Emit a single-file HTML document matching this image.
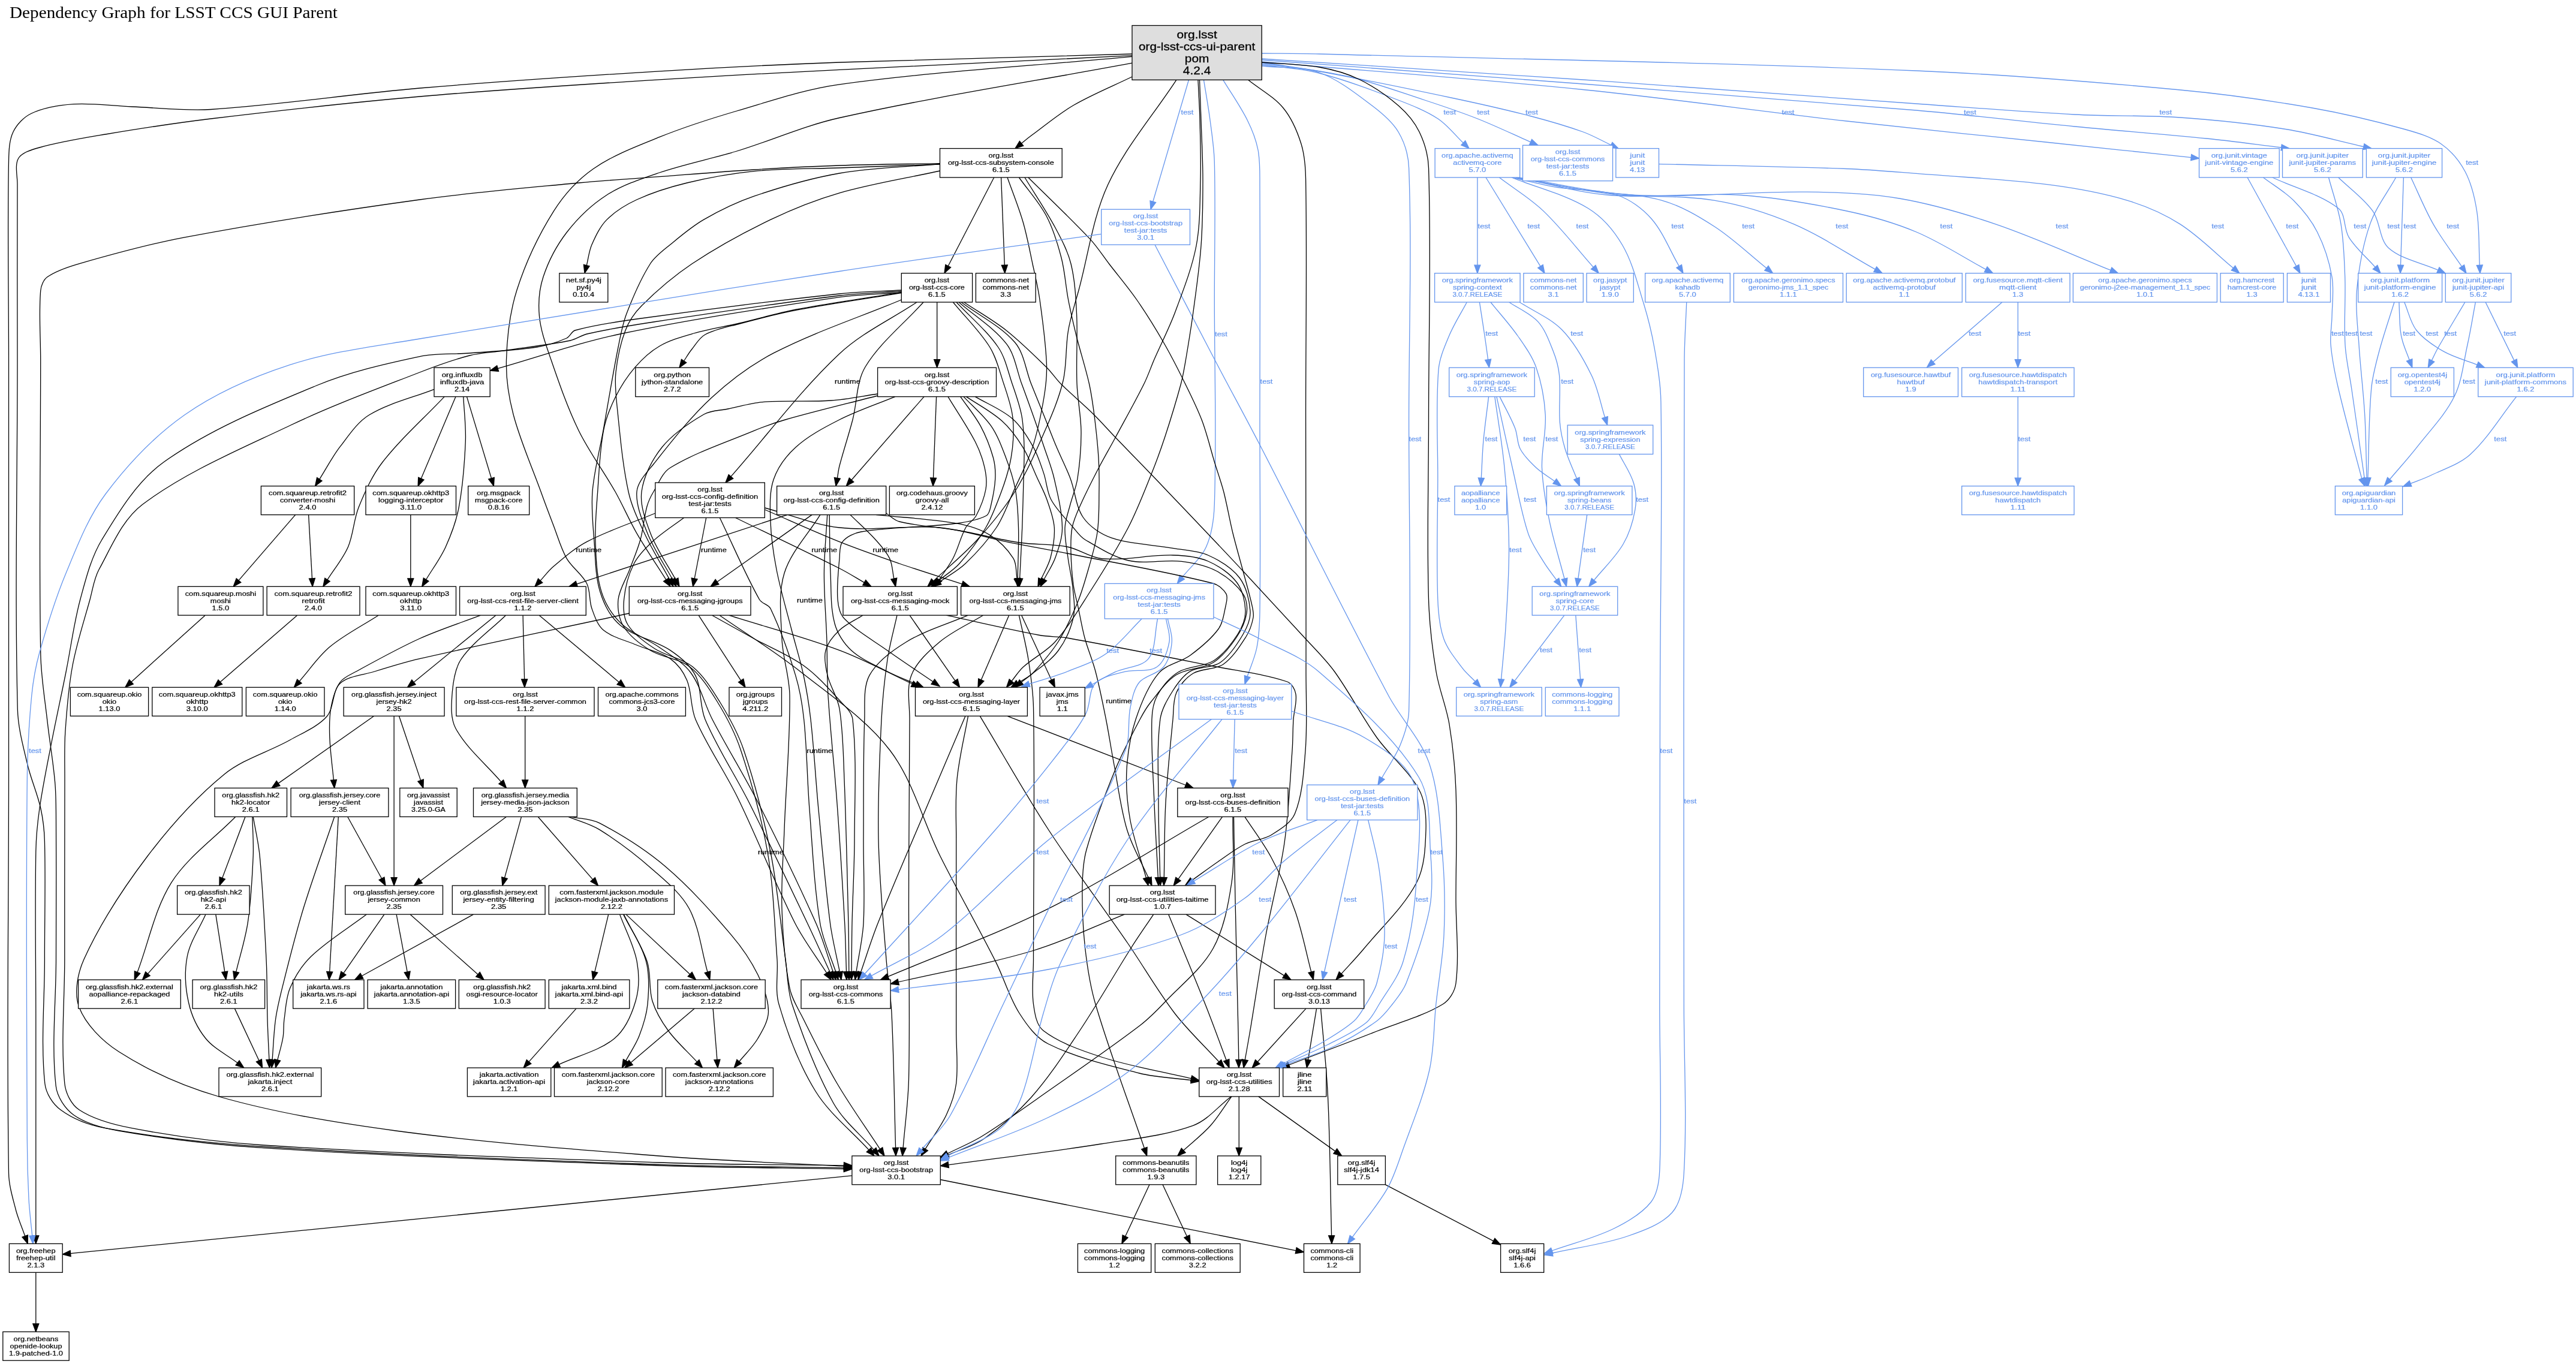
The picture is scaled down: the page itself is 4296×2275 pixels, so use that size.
<!DOCTYPE html><html><head><meta charset="utf-8"><title>Dependency Graph</title><style>html,body{margin:0;padding:0;background:#fff}svg{display:block;will-change:transform}text{font-family:"Liberation Sans",sans-serif;font-size:10.6px;text-anchor:middle;stroke-width:.22px}text.r{font-size:18.2px;stroke-width:.3px}text.t{font-family:"Liberation Serif",serif;font-size:27.5px;text-anchor:start;stroke:none}path{fill:none;stroke-width:1.3}rect{stroke-width:1.3}polygon{stroke-width:1.3}</style></head><body>
<svg width="4296" height="2275" viewBox="0 0 4296 2275">
<rect x="0" y="0" width="4296" height="2275" fill="#ffffff" stroke="none"/>
<text class="t" x="16" y="30.3" fill="#000" textLength="547" lengthAdjust="spacingAndGlyphs">Dependency Graph for LSST CCS GUI Parent</text>
<path d="M2104.2,89.0C2136.1,89.3 2168.1,89.2 2200.0,90.0C2532.0,98.8 2864.2,104.1 3196.0,118.0C3342.9,124.1 3489.7,136.3 3636.0,150.0C3709.7,156.9 3783.2,167.2 3856.0,180.0C3907.8,189.1 3959.4,201.4 4010.0,215.5C4031.1,221.4 4053.5,227.8 4071.0,240.0C4087.2,251.3 4101.7,268.5 4111.0,286.0C4121.5,305.8 4127.1,329.5 4130.6,352.0C4135.2,381.6 4133.7,412.1 4135.3,442.2" stroke="#6495ed"/><polygon points="4136.0,455.7 4130.3,442.5 4140.3,442.0" fill="#6495ed" stroke="#6495ed"/><text x="4122.7" y="275.0" fill="#6495ed" stroke="#6495ed" textLength="20.9" lengthAdjust="spacingAndGlyphs">test</text>
<path d="M2104.2,98.0C2282.8,109.7 2461.4,120.7 2640.0,133.0C2825.4,145.7 3010.7,159.9 3196.0,173.0C3284.0,179.2 3371.9,186.4 3460.0,191.0C3518.6,194.1 3577.5,191.9 3636.0,196.0C3694.8,200.1 3753.8,206.2 3812.0,215.5C3855.7,222.5 3898.6,234.9 3941.8,244.6" stroke="#6495ed"/><polygon points="3955.0,247.6 3940.7,249.5 3942.9,239.8" fill="#6495ed" stroke="#6495ed"/><text x="3611.6" y="190.6" fill="#6495ed" stroke="#6495ed" textLength="20.9" lengthAdjust="spacingAndGlyphs">test</text>
<path d="M2104.2,100.0C2282.8,113.3 2461.4,126.3 2640.0,140.0C2825.4,154.3 3010.8,168.0 3196.0,184.0C3284.1,191.6 3372.0,202.5 3460.0,211.0C3533.3,218.1 3606.7,223.6 3680.0,231.0C3721.6,235.2 3763.1,241.0 3804.6,246.0" stroke="#6495ed"/><polygon points="3818.0,247.6 3804.0,251.0 3805.2,241.0" fill="#6495ed" stroke="#6495ed"/><text x="3285.5" y="190.6" fill="#6495ed" stroke="#6495ed" textLength="20.9" lengthAdjust="spacingAndGlyphs">test</text>
<path d="M2104.2,103.0C2282.8,118.5 2461.7,131.4 2640.0,149.5C2786.9,164.4 2933.2,185.4 3080.0,202.0C3191.9,214.7 3304.0,225.7 3416.0,237.5C3495.4,245.9 3574.7,254.2 3654.1,262.6" stroke="#6495ed"/><polygon points="3667.5,264.0 3653.6,267.6 3654.6,257.6" fill="#6495ed" stroke="#6495ed"/><text x="2982.0" y="190.6" fill="#6495ed" stroke="#6495ed" textLength="20.9" lengthAdjust="spacingAndGlyphs">test</text>
<path d="M2104.2,106.0C2136.1,110.3 2168.3,113.3 2200.0,119.0C2273.6,132.3 2346.8,147.5 2420.0,163.0C2464.2,172.3 2508.3,182.2 2552.0,193.5C2581.6,201.2 2611.2,209.7 2640.0,220.0C2656.2,225.8 2671.2,234.6 2686.8,241.9" stroke="#6495ed"/><polygon points="2699.0,247.6 2684.7,246.4 2688.9,237.4" fill="#6495ed" stroke="#6495ed"/><text x="2554.5" y="190.6" fill="#6495ed" stroke="#6495ed" textLength="20.9" lengthAdjust="spacingAndGlyphs">test</text>
<path d="M2104.2,104.0C2152.8,112.0 2202.1,116.9 2250.0,128.0C2292.7,137.9 2334.2,153.3 2376.0,167.0C2405.6,176.7 2435.1,186.6 2464.0,198.0C2494.0,209.9 2523.1,223.9 2552.6,236.9" stroke="#6495ed"/><polygon points="2565.0,242.3 2550.6,241.5 2554.6,232.3" fill="#6495ed" stroke="#6495ed"/><text x="2473.6" y="190.6" fill="#6495ed" stroke="#6495ed" textLength="20.9" lengthAdjust="spacingAndGlyphs">test</text>
<path d="M2104.2,108.0C2136.1,112.7 2168.9,113.9 2200.0,122.0C2244.8,133.6 2288.7,150.4 2332.0,167.0C2354.7,175.7 2378.0,184.8 2398.0,198.0C2414.0,208.6 2426.2,224.9 2440.2,238.3" stroke="#6495ed"/><polygon points="2450.0,247.6 2436.8,241.9 2443.7,234.7" fill="#6495ed" stroke="#6495ed"/><text x="2417.7" y="190.6" fill="#6495ed" stroke="#6495ed" textLength="20.9" lengthAdjust="spacingAndGlyphs">test</text>
<path d="M2104.2,110.0C2136.1,113.7 2170.5,110.4 2200.0,121.0C2231.8,132.4 2260.5,155.4 2288.0,176.0C2304.5,188.4 2321.8,202.7 2332.0,220.0C2342.3,237.4 2348.8,259.3 2349.6,280.0C2354.7,419.3 2349.6,560.0 2349.6,700.0C2349.6,862.0 2353.9,1024.5 2349.6,1186.0C2349.1,1205.5 2342.3,1225.0 2335.0,1243.0C2327.3,1262.1 2314.7,1279.2 2304.6,1297.3" stroke="#6495ed"/><polygon points="2298.0,1309.1 2300.2,1294.9 2309.0,1299.8" fill="#6495ed" stroke="#6495ed"/><text x="2360.0" y="735.6" fill="#6495ed" stroke="#6495ed" textLength="20.9" lengthAdjust="spacingAndGlyphs">test</text>
<path d="M2104.2,104.0C2136.1,106.7 2168.6,106.6 2200.0,112.0C2222.5,115.9 2245.5,122.1 2266.0,132.0C2289.5,143.4 2312.3,158.8 2332.0,176.0C2346.0,188.2 2359.0,203.5 2367.0,220.0C2375.8,238.2 2381.8,259.4 2382.5,280.0C2387.0,419.4 2382.5,560.0 2382.5,700.0C2382.5,800.0 2379.5,900.2 2382.5,1000.0C2383.7,1040.2 2388.4,1080.4 2395.0,1120.0C2399.9,1149.8 2412.0,1178.3 2417.0,1208.0C2423.0,1244.3 2426.6,1281.2 2428.0,1318.0C2430.3,1378.6 2428.0,1439.3 2428.0,1500.0C2428.0,1546.7 2433.7,1595.0 2428.0,1640.0C2426.3,1653.3 2417.4,1668.1 2406.0,1675.0C2373.4,1694.8 2332.8,1705.5 2296.0,1720.0C2247.4,1739.2 2198.4,1757.4 2149.6,1776.2" stroke="#000000"/><polygon points="2137.0,1781.0 2147.8,1771.5 2151.4,1780.8" fill="#000000" stroke="#000000"/>
<path d="M1982.5,133.3L1922.8,336.2" stroke="#6495ed"/><polygon points="1919.0,349.2 1918.0,334.8 1927.6,337.7" fill="#6495ed" stroke="#6495ed"/><text x="1980.0" y="190.6" fill="#6495ed" stroke="#6495ed" textLength="20.9" lengthAdjust="spacingAndGlyphs">test</text>
<path d="M2007.5,133.3C2011.0,155.5 2015.1,177.7 2018.0,200.0C2021.0,223.3 2024.7,246.6 2025.3,270.0C2027.2,346.6 2025.3,423.3 2025.3,500.0C2025.3,613.7 2029.1,727.7 2025.3,841.0C2024.5,865.0 2021.1,890.6 2011.6,912.0C2003.1,931.2 1984.9,945.9 1971.6,962.8" stroke="#6495ed"/><polygon points="1963.2,973.4 1967.6,959.7 1975.5,965.9" fill="#6495ed" stroke="#6495ed"/><text x="2036.5" y="560.6" fill="#6495ed" stroke="#6495ed" textLength="20.9" lengthAdjust="spacingAndGlyphs">test</text>
<path d="M2039.8,133.3C2053.2,155.5 2068.5,176.9 2080.0,200.0C2087.9,215.8 2094.7,232.8 2098.0,250.0C2101.7,269.5 2100.9,290.0 2101.0,310.0C2101.9,440.0 2101.0,570.0 2101.0,700.0C2101.0,806.7 2102.4,913.4 2101.0,1020.0C2100.7,1040.1 2099.8,1060.4 2096.0,1080.0C2092.8,1096.5 2085.5,1112.2 2080.2,1128.3" stroke="#6495ed"/><polygon points="2076.0,1141.1 2075.4,1126.7 2085.0,1129.8" fill="#6495ed" stroke="#6495ed"/><text x="2112.0" y="639.6" fill="#6495ed" stroke="#6495ed" textLength="20.9" lengthAdjust="spacingAndGlyphs">test</text>
<path d="M2081.6,133.3C2101.1,148.9 2124.5,161.3 2140.0,180.0C2153.9,196.8 2163.4,219.0 2170.0,240.0C2175.9,259.0 2177.3,279.9 2177.6,300.0C2179.8,433.2 2177.5,566.7 2177.6,700.0C2177.7,840.0 2178.2,980.0 2178.0,1120.0C2178.0,1164.0 2180.4,1208.3 2177.0,1252.0C2174.2,1287.3 2172.2,1325.7 2159.5,1357.0C2153.2,1372.6 2134.8,1383.6 2120.0,1392.7C2107.0,1400.6 2089.8,1401.1 2076.0,1408.0C2060.5,1415.8 2046.5,1426.8 2032.0,1436.7C2017.1,1446.9 2002.7,1457.7 1988.0,1468.2" stroke="#000000"/><polygon points="1977.0,1476.0 1985.1,1464.1 1990.9,1472.2" fill="#000000" stroke="#000000"/>
<path d="M2463.9,296.0L2463.9,442.2" stroke="#6495ed"/><polygon points="2463.9,455.7 2458.9,442.2 2468.9,442.2" fill="#6495ed" stroke="#6495ed"/><text x="2475.0" y="380.6" fill="#6495ed" stroke="#6495ed" textLength="20.9" lengthAdjust="spacingAndGlyphs">test</text>
<path d="M2478.0,296.0L2568.9,444.2" stroke="#6495ed"/><polygon points="2576.0,455.7 2564.7,446.8 2573.2,441.6" fill="#6495ed" stroke="#6495ed"/><text x="2557.6" y="380.6" fill="#6495ed" stroke="#6495ed" textLength="20.9" lengthAdjust="spacingAndGlyphs">test</text>
<path d="M2500.4,296.0C2524.9,314.6 2551.7,330.8 2573.9,351.9C2604.0,380.6 2629.5,414.4 2657.2,445.6" stroke="#6495ed"/><polygon points="2666.2,455.7 2653.5,448.9 2661.0,442.3" fill="#6495ed" stroke="#6495ed"/><text x="2639.0" y="380.6" fill="#6495ed" stroke="#6495ed" textLength="20.9" lengthAdjust="spacingAndGlyphs">test</text>
<path d="M2521.0,296.0C2563.5,313.2 2610.3,324.1 2648.6,347.5C2671.9,361.8 2692.0,385.3 2705.8,409.0C2722.8,438.1 2730.8,473.1 2741.0,505.8C2748.5,530.1 2754.6,555.0 2759.0,580.0C2764.2,609.7 2769.4,639.8 2769.9,670.0C2772.6,833.1 2768.8,996.7 2768.5,1160.0C2768.1,1331.7 2768.0,1503.3 2767.8,1675.0C2767.7,1767.3 2771.8,1860.2 2767.8,1952.0C2767.0,1970.2 2764.0,1991.4 2753.3,2005.0C2738.6,2023.7 2714.1,2038.0 2691.7,2049.0C2659.1,2065.0 2622.8,2073.7 2588.3,2086.0" stroke="#6495ed"/><polygon points="2575.6,2090.6 2586.6,2081.3 2590.0,2090.8" fill="#6495ed" stroke="#6495ed"/><text x="2778.8" y="1256.4" fill="#6495ed" stroke="#6495ed" textLength="20.9" lengthAdjust="spacingAndGlyphs">test</text>
<path d="M2523.3,296.5C2547.5,301.8 2571.5,308.2 2595.9,312.3C2629.4,317.9 2665.6,315.1 2697.0,325.5C2718.4,332.6 2739.3,347.9 2754.2,365.0C2773.7,387.4 2784.9,417.7 2800.2,444.0" stroke="#6495ed"/><polygon points="2807.0,455.7 2795.9,446.5 2804.5,441.5" fill="#6495ed" stroke="#6495ed"/><text x="2797.7" y="380.6" fill="#6495ed" stroke="#6495ed" textLength="20.9" lengthAdjust="spacingAndGlyphs">test</text>
<path d="M2527.7,296.5C2565.1,303.2 2602.3,310.9 2639.8,316.7C2683.7,323.5 2729.6,322.5 2771.8,334.3C2803.0,343.0 2832.4,360.6 2859.8,378.3C2890.5,398.2 2917.2,424.3 2946.0,447.3" stroke="#6495ed"/><polygon points="2956.5,455.7 2942.8,451.2 2949.1,443.4" fill="#6495ed" stroke="#6495ed"/><text x="2915.6" y="380.6" fill="#6495ed" stroke="#6495ed" textLength="20.9" lengthAdjust="spacingAndGlyphs">test</text>
<path d="M2530.0,296.5C2581.3,305.4 2632.2,317.4 2683.8,323.3C2742.1,330.0 2802.2,324.8 2859.8,334.3C2904.8,341.7 2949.8,355.9 2991.7,373.9C3038.9,394.2 3082.0,424.1 3127.2,449.1" stroke="#6495ed"/><polygon points="3139.0,455.7 3124.8,453.5 3129.6,444.8" fill="#6495ed" stroke="#6495ed"/><text x="3071.8" y="380.6" fill="#6495ed" stroke="#6495ed" textLength="20.9" lengthAdjust="spacingAndGlyphs">test</text>
<path d="M2532.0,296.5C2582.7,306.2 2632.8,321.5 2684.0,325.5C2756.8,331.2 2831.0,320.6 2904.0,325.5C2963.0,329.5 3022.1,339.8 3080.0,352.0C3119.4,360.3 3158.9,371.4 3196.0,387.0C3236.2,403.9 3273.1,428.5 3311.7,449.3" stroke="#6495ed"/><polygon points="3323.6,455.7 3309.3,453.7 3314.1,444.9" fill="#6495ed" stroke="#6495ed"/><text x="3246.0" y="380.6" fill="#6495ed" stroke="#6495ed" textLength="20.9" lengthAdjust="spacingAndGlyphs">test</text>
<path d="M2534.3,296.5C2598.8,306.2 2662.9,322.3 2727.8,325.5C2822.7,330.2 2918.5,319.0 3013.7,320.2C3065.1,320.8 3117.1,322.4 3167.6,331.0C3221.9,340.3 3275.7,356.1 3328.0,373.9C3393.1,396.0 3456.0,425.1 3520.0,450.7" stroke="#6495ed"/><polygon points="3532.5,455.7 3518.1,455.3 3521.8,446.0" fill="#6495ed" stroke="#6495ed"/><text x="3438.8" y="380.6" fill="#6495ed" stroke="#6495ed" textLength="20.9" lengthAdjust="spacingAndGlyphs">test</text>
<path d="M2766.5,273.6C2870.9,276.2 2975.4,277.7 3079.7,281.5C3118.5,282.9 3157.3,286.4 3196.0,289.4C3269.4,295.2 3343.1,298.6 3416.0,307.9C3460.4,313.6 3505.2,321.5 3547.9,334.3C3578.5,343.5 3609.0,356.7 3635.8,373.9C3667.8,394.3 3694.9,422.7 3724.4,447.1" stroke="#6495ed"/><polygon points="3734.8,455.7 3721.2,451.0 3727.6,443.2" fill="#6495ed" stroke="#6495ed"/><text x="3698.7" y="380.6" fill="#6495ed" stroke="#6495ed" textLength="20.9" lengthAdjust="spacingAndGlyphs">test</text>
<path d="M3748.0,296.0L3829.5,443.9" stroke="#6495ed"/><polygon points="3836.0,455.7 3825.1,446.3 3833.9,441.5" fill="#6495ed" stroke="#6495ed"/><text x="3822.8" y="380.6" fill="#6495ed" stroke="#6495ed" textLength="20.9" lengthAdjust="spacingAndGlyphs">test</text>
<path d="M3774.4,296.0C3791.3,308.8 3810.3,319.4 3825.0,334.3C3840.3,349.7 3854.8,367.6 3864.5,387.0C3876.1,410.1 3884.6,436.3 3889.0,461.8C3892.7,483.2 3889.4,505.8 3889.0,527.8C3888.7,543.5 3885.6,559.4 3887.0,575.0C3889.2,599.5 3894.1,624.0 3899.7,648.0C3911.4,698.3 3925.7,748.1 3938.7,798.2" stroke="#6495ed"/><polygon points="3943.7,810.7 3934.0,800.0 3943.3,796.3" fill="#6495ed" stroke="#6495ed"/><text x="3898.4" y="560.4" fill="#6495ed" stroke="#6495ed" textLength="20.9" lengthAdjust="spacingAndGlyphs">test</text>
<path d="M3789.8,296.0C3826.4,313.2 3869.9,324.1 3899.7,347.5C3912.4,357.4 3908.3,381.6 3917.3,395.9C3928.8,414.3 3946.5,429.0 3961.1,445.6" stroke="#6495ed"/><polygon points="3970.0,455.7 3957.3,448.9 3964.8,442.3" fill="#6495ed" stroke="#6495ed"/><text x="3935.8" y="380.6" fill="#6495ed" stroke="#6495ed" textLength="20.9" lengthAdjust="spacingAndGlyphs">test</text>
<path d="M3883.5,296.0C3890.3,322.0 3899.7,347.5 3904.0,373.9C3908.7,402.8 3909.7,432.5 3910.7,461.8C3912.0,499.5 3908.8,537.4 3911.0,575.0C3912.4,599.5 3918.2,623.7 3921.7,648.0C3928.9,697.8 3936.1,747.7 3943.2,797.5" stroke="#6495ed"/><polygon points="3946.0,810.7 3938.3,798.5 3948.1,796.5" fill="#6495ed" stroke="#6495ed"/><text x="3921.7" y="560.4" fill="#6495ed" stroke="#6495ed" textLength="20.9" lengthAdjust="spacingAndGlyphs">test</text>
<path d="M3899.7,296.0C3918.8,314.6 3941.8,330.6 3957.0,351.9C3969.7,369.7 3967.9,399.4 3983.3,413.4C4004.2,432.3 4038.4,438.1 4066.0,450.5" stroke="#6495ed"/><polygon points="4078.3,456.0 4063.9,455.0 4068.0,445.9" fill="#6495ed" stroke="#6495ed"/><text x="3991.6" y="380.6" fill="#6495ed" stroke="#6495ed" textLength="20.9" lengthAdjust="spacingAndGlyphs">test</text>
<path d="M3995.6,296.0C3981.2,322.0 3962.1,346.2 3952.5,373.9C3940.4,408.8 3933.9,446.9 3930.5,483.8C3927.7,513.9 3932.1,544.6 3934.0,575.0C3936.5,614.0 3941.4,652.9 3943.7,692.0C3945.8,727.0 3945.9,762.2 3947.0,797.2" stroke="#6495ed"/><polygon points="3948.0,810.7 3942.0,797.6 3952.0,796.9" fill="#6495ed" stroke="#6495ed"/><text x="3945.9" y="560.4" fill="#6495ed" stroke="#6495ed" textLength="20.9" lengthAdjust="spacingAndGlyphs">test</text>
<path d="M4008.4,296.0L4003.5,442.2" stroke="#6495ed"/><polygon points="4003.0,455.7 3998.5,442.0 4008.5,442.4" fill="#6495ed" stroke="#6495ed"/><text x="4018.9" y="380.6" fill="#6495ed" stroke="#6495ed" textLength="20.9" lengthAdjust="spacingAndGlyphs">test</text>
<path d="M4020.7,296.0C4033.1,322.0 4043.8,349.0 4058.0,373.9C4072.0,398.5 4089.6,421.0 4105.5,444.5" stroke="#6495ed"/><polygon points="4113.0,455.7 4101.3,447.3 4109.6,441.7" fill="#6495ed" stroke="#6495ed"/><text x="4090.6" y="380.6" fill="#6495ed" stroke="#6495ed" textLength="20.9" lengthAdjust="spacingAndGlyphs">test</text>
<path d="M3993.0,504.0C3984.7,531.0 3975.3,557.7 3968.0,585.0C3962.5,605.7 3956.6,626.7 3954.7,648.0C3950.2,697.4 3950.8,747.5 3948.9,797.2" stroke="#6495ed"/><polygon points="3949.5,810.7 3943.9,797.4 3953.9,797.0" fill="#6495ed" stroke="#6495ed"/><text x="3971.8" y="639.6" fill="#6495ed" stroke="#6495ed" textLength="20.9" lengthAdjust="spacingAndGlyphs">test</text>
<path d="M4000.9,504.0C4001.6,519.3 4001.6,534.6 4003.0,549.8C4003.6,556.6 4005.0,563.4 4007.0,570.0C4010.1,580.4 4014.5,590.4 4018.2,600.5" stroke="#6495ed"/><polygon points="4022.9,613.2 4013.5,602.3 4022.9,598.8" fill="#6495ed" stroke="#6495ed"/><text x="4017.6" y="560.4" fill="#6495ed" stroke="#6495ed" textLength="20.9" lengthAdjust="spacingAndGlyphs">test</text>
<path d="M4009.7,504.0C4016.5,519.7 4019.7,538.1 4030.0,551.0C4041.7,565.6 4059.1,577.0 4075.7,586.4C4092.8,596.1 4112.7,601.0 4131.2,608.3" stroke="#6495ed"/><polygon points="4143.8,613.2 4129.4,612.9 4133.1,603.6" fill="#6495ed" stroke="#6495ed"/><text x="4055.9" y="560.4" fill="#6495ed" stroke="#6495ed" textLength="20.9" lengthAdjust="spacingAndGlyphs">test</text>
<path d="M4110.9,504.0C4095.9,529.3 4080.6,554.5 4066.0,580.0C4062.1,586.8 4058.9,594.1 4055.4,601.1" stroke="#6495ed"/><polygon points="4049.3,613.2 4050.9,598.9 4059.8,603.4" fill="#6495ed" stroke="#6495ed"/><text x="4086.7" y="560.4" fill="#6495ed" stroke="#6495ed" textLength="20.9" lengthAdjust="spacingAndGlyphs">test</text>
<path d="M4128.4,504.0C4123.9,527.7 4120.3,551.5 4115.0,575.0C4108.5,603.8 4106.0,634.9 4093.2,661.0C4078.2,691.5 4053.0,717.4 4031.7,744.7C4017.0,763.6 4000.8,781.2 3985.4,799.5" stroke="#6495ed"/><polygon points="3976.7,809.8 3981.6,796.3 3989.2,802.7" fill="#6495ed" stroke="#6495ed"/><text x="4117.4" y="639.6" fill="#6495ed" stroke="#6495ed" textLength="20.9" lengthAdjust="spacingAndGlyphs">test</text>
<path d="M4145.1,504.0L4192.8,601.1" stroke="#6495ed"/><polygon points="4198.8,613.2 4188.4,603.3 4197.3,598.9" fill="#6495ed" stroke="#6495ed"/><text x="4185.6" y="560.4" fill="#6495ed" stroke="#6495ed" textLength="20.9" lengthAdjust="spacingAndGlyphs">test</text>
<path d="M4196.6,661.6C4170.9,693.7 4149.3,730.7 4119.6,758.0C4101.6,774.5 4076.0,782.1 4053.7,793.0C4042.8,798.3 4031.2,802.0 4020.0,806.6" stroke="#6495ed"/><polygon points="4007.5,811.6 4018.2,801.9 4021.9,811.2" fill="#6495ed" stroke="#6495ed"/><text x="4169.8" y="735.6" fill="#6495ed" stroke="#6495ed" textLength="20.9" lengthAdjust="spacingAndGlyphs">test</text>
<path d="M3339.0,504.0L3223.8,603.7" stroke="#6495ed"/><polygon points="3213.6,612.5 3220.5,599.9 3227.1,607.4" fill="#6495ed" stroke="#6495ed"/><text x="3293.6" y="560.4" fill="#6495ed" stroke="#6495ed" textLength="20.9" lengthAdjust="spacingAndGlyphs">test</text>
<path d="M3365.3,504.0L3365.3,599.7" stroke="#6495ed"/><polygon points="3365.3,613.2 3360.3,599.7 3370.3,599.7" fill="#6495ed" stroke="#6495ed"/><text x="3375.9" y="560.4" fill="#6495ed" stroke="#6495ed" textLength="20.9" lengthAdjust="spacingAndGlyphs">test</text>
<path d="M3365.3,661.6L3365.3,797.2" stroke="#6495ed"/><polygon points="3365.3,810.7 3360.3,797.2 3370.3,797.2" fill="#6495ed" stroke="#6495ed"/><text x="3375.9" y="735.6" fill="#6495ed" stroke="#6495ed" textLength="20.9" lengthAdjust="spacingAndGlyphs">test</text>
<path d="M2812.7,504.0C2811.5,536.0 2809.2,568.0 2809.0,600.0C2807.7,786.6 2808.1,973.3 2808.0,1160.0C2807.9,1331.7 2808.2,1503.3 2808.3,1675.0C2808.3,1768.8 2813.6,1863.4 2808.3,1956.5C2807.0,1979.3 2802.7,2006.7 2788.5,2022.5C2771.1,2041.9 2740.2,2053.0 2713.7,2062.0C2673.6,2075.6 2630.4,2080.7 2588.8,2090.0" stroke="#6495ed"/><polygon points="2575.6,2093.0 2587.7,2085.2 2589.9,2094.9" fill="#6495ed" stroke="#6495ed"/><text x="2818.8" y="1340.4" fill="#6495ed" stroke="#6495ed" textLength="20.9" lengthAdjust="spacingAndGlyphs">test</text>
<path d="M2467.4,504.0C2470.3,522.7 2473.2,541.3 2476.0,560.0C2478.0,573.3 2479.7,586.6 2481.6,599.8" stroke="#6495ed"/><polygon points="2483.5,613.2 2476.7,600.5 2486.6,599.1" fill="#6495ed" stroke="#6495ed"/><text x="2487.6" y="560.4" fill="#6495ed" stroke="#6495ed" textLength="20.9" lengthAdjust="spacingAndGlyphs">test</text>
<path d="M2446.3,504.0C2436.4,522.7 2424.8,540.6 2416.7,560.0C2409.1,578.3 2400.5,597.3 2399.0,617.0C2394.2,677.3 2398.0,739.0 2397.8,800.0C2397.6,866.7 2395.3,933.5 2397.8,1000.0C2398.6,1022.1 2400.6,1045.4 2407.9,1065.8C2414.2,1083.4 2427.4,1098.9 2438.7,1114.2C2444.8,1122.5 2453.0,1129.1 2460.2,1136.6" stroke="#6495ed"/><polygon points="2469.5,1146.3 2456.5,1140.0 2463.8,1133.1" fill="#6495ed" stroke="#6495ed"/><text x="2408.0" y="836.6" fill="#6495ed" stroke="#6495ed" textLength="20.9" lengthAdjust="spacingAndGlyphs">test</text>
<path d="M2485.9,504.0C2500.9,522.7 2517.3,540.4 2531.0,560.0C2542.6,576.7 2555.2,593.8 2561.8,612.8C2570.6,637.8 2575.7,665.4 2577.2,692.0C2578.9,721.1 2570.4,750.8 2571.5,780.0C2572.6,809.4 2577.9,839.0 2583.8,867.9C2590.4,900.7 2600.6,932.8 2609.0,965.2" stroke="#6495ed"/><polygon points="2612.4,978.3 2604.2,966.5 2613.9,964.0" fill="#6495ed" stroke="#6495ed"/><text x="2587.8" y="735.6" fill="#6495ed" stroke="#6495ed" textLength="20.9" lengthAdjust="spacingAndGlyphs">test</text>
<path d="M2516.7,504.0C2532.8,514.9 2552.4,522.6 2565.0,536.6C2576.8,549.6 2583.3,568.2 2590.0,585.0C2595.2,598.0 2599.2,612.0 2600.5,626.0C2603.0,652.0 2599.3,678.9 2601.4,705.0C2602.6,719.9 2605.9,734.7 2610.2,749.0C2615.3,765.8 2623.0,781.8 2629.5,798.1" stroke="#6495ed"/><polygon points="2634.4,810.7 2624.8,800.0 2634.1,796.3" fill="#6495ed" stroke="#6495ed"/><text x="2613.7" y="639.6" fill="#6495ed" stroke="#6495ed" textLength="20.9" lengthAdjust="spacingAndGlyphs">test</text>
<path d="M2534.3,504.0C2557.7,519.3 2585.4,530.3 2604.6,549.8C2625.4,570.9 2641.0,599.0 2654.2,626.0C2664.9,647.9 2669.1,672.8 2676.5,696.2" stroke="#6495ed"/><polygon points="2680.6,709.1 2671.7,697.7 2681.3,694.7" fill="#6495ed" stroke="#6495ed"/><text x="2629.7" y="560.4" fill="#6495ed" stroke="#6495ed" textLength="20.9" lengthAdjust="spacingAndGlyphs">test</text>
<path d="M2482.6,661.6C2479.7,686.4 2476.1,711.1 2473.8,736.0C2472.0,756.3 2471.5,776.8 2470.3,797.2" stroke="#6495ed"/><polygon points="2469.5,810.7 2465.3,796.9 2475.3,797.5" fill="#6495ed" stroke="#6495ed"/><text x="2487.0" y="735.6" fill="#6495ed" stroke="#6495ed" textLength="20.9" lengthAdjust="spacingAndGlyphs">test</text>
<path d="M2492.8,661.6C2498.2,701.1 2505.2,740.4 2509.0,780.0C2513.1,823.8 2516.1,868.0 2516.5,912.0C2516.9,955.9 2513.8,999.9 2511.2,1043.8C2509.5,1073.5 2506.1,1103.2 2503.6,1132.8" stroke="#6495ed"/><polygon points="2502.4,1146.3 2498.6,1132.4 2508.5,1133.3" fill="#6495ed" stroke="#6495ed"/><text x="2527.5" y="920.6" fill="#6495ed" stroke="#6495ed" textLength="20.9" lengthAdjust="spacingAndGlyphs">test</text>
<path d="M2495.9,661.6C2504.7,701.1 2513.1,740.6 2522.2,780.0C2530.7,816.7 2536.8,854.4 2548.6,889.9C2554.4,907.2 2565.5,922.6 2575.0,938.2C2581.2,948.4 2588.8,957.6 2595.8,967.3" stroke="#6495ed"/><polygon points="2603.6,978.3 2591.7,970.2 2599.8,964.4" fill="#6495ed" stroke="#6495ed"/><text x="2551.7" y="836.6" fill="#6495ed" stroke="#6495ed" textLength="20.9" lengthAdjust="spacingAndGlyphs">test</text>
<path d="M2501.1,661.6C2509.6,679.1 2519.5,696.0 2526.6,714.0C2531.0,725.1 2529.9,738.7 2535.4,749.0C2541.6,760.7 2552.0,770.8 2561.8,780.0C2571.1,788.7 2582.4,795.1 2592.7,802.7" stroke="#6495ed"/><polygon points="2603.6,810.7 2589.8,806.7 2595.7,798.7" fill="#6495ed" stroke="#6495ed"/><text x="2550.8" y="735.6" fill="#6495ed" stroke="#6495ed" textLength="20.9" lengthAdjust="spacingAndGlyphs">test</text>
<path d="M2700.4,757.5C2708.5,773.8 2719.7,789.2 2724.6,806.3C2728.5,820.1 2729.3,836.1 2726.8,850.3C2723.4,869.8 2717.0,890.3 2707.0,907.5C2694.2,929.5 2674.5,947.7 2658.3,967.8" stroke="#6495ed"/><polygon points="2649.8,978.3 2654.4,964.7 2662.2,970.9" fill="#6495ed" stroke="#6495ed"/><text x="2738.6" y="836.6" fill="#6495ed" stroke="#6495ed" textLength="20.9" lengthAdjust="spacingAndGlyphs">test</text>
<path d="M2646.7,858.6L2631.9,964.9" stroke="#6495ed"/><polygon points="2630.0,978.3 2626.9,964.2 2636.8,965.6" fill="#6495ed" stroke="#6495ed"/><text x="2650.7" y="920.6" fill="#6495ed" stroke="#6495ed" textLength="20.9" lengthAdjust="spacingAndGlyphs">test</text>
<path d="M2608.9,1026.2L2526.0,1135.6" stroke="#6495ed"/><polygon points="2517.8,1146.4 2522.0,1132.6 2529.9,1138.7" fill="#6495ed" stroke="#6495ed"/><text x="2578.5" y="1088.3" fill="#6495ed" stroke="#6495ed" textLength="20.9" lengthAdjust="spacingAndGlyphs">test</text>
<path d="M2627.8,1026.2L2635.6,1132.9" stroke="#6495ed"/><polygon points="2636.6,1146.4 2630.6,1133.3 2640.6,1132.6" fill="#6495ed" stroke="#6495ed"/><text x="2643.6" y="1088.3" fill="#6495ed" stroke="#6495ed" textLength="20.9" lengthAdjust="spacingAndGlyphs">test</text>
<path d="M1503.3,488.0C1468.9,490.6 1434.1,490.7 1400.0,495.7C1277.8,513.7 1155.1,531.8 1034.3,557.0C965.2,571.4 898.2,595.4 830.2,614.6" stroke="#000000"/><polygon points="817.2,618.3 828.8,609.8 831.6,619.4" fill="#000000" stroke="#000000"/>
<path d="M724.0,649.3C687.9,663.5 648.1,672.3 615.8,692.0C595.9,704.1 581.9,725.9 567.4,744.7C554.3,761.7 544.3,781.1 532.8,799.3" stroke="#000000"/><polygon points="525.6,810.7 528.6,796.6 537.0,802.0" fill="#000000" stroke="#000000"/>
<path d="M741.1,661.6C706.7,698.1 668.3,731.7 637.8,771.0C620.6,793.1 608.8,819.9 598.2,845.9C589.7,866.9 589.5,891.2 580.6,911.9C572.1,931.6 557.5,948.6 546.0,966.9" stroke="#000000"/><polygon points="538.8,978.3 541.8,964.2 550.2,969.5" fill="#000000" stroke="#000000"/>
<path d="M760.0,661.6L702.3,798.3" stroke="#000000"/><polygon points="697.1,810.7 697.7,796.3 707.0,800.2" fill="#000000" stroke="#000000"/>
<path d="M772.8,661.6C774.0,686.4 777.3,711.3 776.3,736.0C774.8,772.7 772.0,809.9 765.3,845.9C761.0,868.6 752.8,890.9 743.3,911.9C734.6,931.2 721.5,948.4 710.6,966.7" stroke="#000000"/><polygon points="703.7,978.3 706.3,964.1 714.9,969.3" fill="#000000" stroke="#000000"/>
<path d="M778.5,661.6L819.5,797.8" stroke="#000000"/><polygon points="823.4,810.7 814.7,799.2 824.3,796.3" fill="#000000" stroke="#000000"/>
<path d="M492.6,858.6L398.0,968.1" stroke="#000000"/><polygon points="389.2,978.3 394.2,964.8 401.8,971.4" fill="#000000" stroke="#000000"/>
<path d="M514.6,858.6L520.5,964.8" stroke="#000000"/><polygon points="521.2,978.3 515.5,965.1 525.4,964.5" fill="#000000" stroke="#000000"/>
<path d="M684.8,858.6L684.8,964.8" stroke="#000000"/><polygon points="684.8,978.3 679.8,964.8 689.8,964.8" fill="#000000" stroke="#000000"/>
<path d="M342.2,1026.2L218.9,1137.4" stroke="#000000"/><polygon points="208.9,1146.4 215.6,1133.6 222.3,1141.1" fill="#000000" stroke="#000000"/>
<path d="M495.7,1026.2L367.3,1137.6" stroke="#000000"/><polygon points="357.1,1146.4 364.0,1133.8 370.6,1141.3" fill="#000000" stroke="#000000"/>
<path d="M631.2,1026.2C604.1,1043.8 574.4,1058.5 549.8,1079.0C530.4,1095.2 516.2,1117.2 499.3,1136.3" stroke="#000000"/><polygon points="490.4,1146.4 495.6,1133.0 503.1,1139.6" fill="#000000" stroke="#000000"/>
<path d="M801.7,1026.2C767.8,1039.1 733.0,1050.1 700.0,1065.0C663.8,1081.4 628.9,1100.9 594.0,1120.0C584.5,1125.2 572.9,1129.6 567.0,1138.0C558.9,1149.6 554.7,1165.5 552.0,1180.0C549.0,1196.2 549.2,1213.4 549.8,1230.0C550.7,1253.7 554.2,1277.3 556.4,1301.0" stroke="#000000"/><polygon points="557.7,1314.4 551.5,1301.4 561.4,1300.5" fill="#000000" stroke="#000000"/>
<path d="M826.9,1026.2L690.0,1137.9" stroke="#000000"/><polygon points="679.5,1146.4 686.8,1134.0 693.1,1141.7" fill="#000000" stroke="#000000"/>
<path d="M843.5,1026.2C818.9,1050.3 788.7,1071.2 769.6,1098.6C758.9,1113.9 755.9,1135.4 754.3,1154.3C752.7,1174.2 750.7,1197.9 760.0,1215.0C777.8,1247.8 810.5,1274.4 835.8,1304.1" stroke="#000000"/><polygon points="844.5,1314.4 831.9,1307.4 839.6,1300.9" fill="#000000" stroke="#000000"/>
<path d="M872.1,1026.2L874.6,1132.9" stroke="#000000"/><polygon points="874.9,1146.4 869.6,1133.0 879.6,1132.8" fill="#000000" stroke="#000000"/>
<path d="M899.2,1026.2L1032.3,1137.7" stroke="#000000"/><polygon points="1042.6,1146.4 1029.0,1141.6 1035.5,1133.9" fill="#000000" stroke="#000000"/>
<path d="M1049.3,1023.0C932.9,1048.2 816.1,1072.1 700.0,1098.6C674.5,1104.4 649.5,1112.2 624.6,1120.0C605.2,1126.0 580.5,1127.3 567.0,1140.0C553.9,1152.3 557.4,1180.9 545.0,1195.0C529.8,1212.2 505.0,1222.1 484.0,1234.0C448.0,1254.3 405.6,1265.7 374.0,1291.5C326.3,1330.4 283.5,1378.6 246.0,1428.0C205.5,1481.4 167.2,1539.9 140.0,1600.0C129.2,1623.9 123.3,1657.0 132.0,1680.0C142.7,1708.3 170.7,1736.6 198.0,1754.0C248.4,1786.2 306.7,1812.3 365.0,1829.0C460.7,1856.3 560.9,1872.6 660.0,1886.0C805.9,1905.6 953.2,1916.4 1100.0,1928.0C1202.3,1936.1 1304.9,1939.5 1407.4,1945.2" stroke="#000000"/><polygon points="1420.9,1946.0 1407.1,1950.2 1407.7,1940.3" fill="#000000" stroke="#000000"/>
<path d="M623.7,1194.3L464.0,1306.6" stroke="#000000"/><polygon points="453.0,1314.4 461.2,1302.5 466.9,1310.7" fill="#000000" stroke="#000000"/>
<path d="M657.1,1194.3L657.1,1463.6" stroke="#000000"/><polygon points="657.1,1477.1 652.1,1463.6 662.1,1463.6" fill="#000000" stroke="#000000"/>
<path d="M665.5,1194.3L701.6,1301.6" stroke="#000000"/><polygon points="705.9,1314.4 696.9,1303.2 706.3,1300.0" fill="#000000" stroke="#000000"/>
<path d="M875.7,1194.3L875.7,1300.9" stroke="#000000"/><polygon points="875.7,1314.4 870.7,1300.9 880.7,1300.9" fill="#000000" stroke="#000000"/>
<path d="M392.8,1362.3C357.2,1398.8 312.6,1429.7 285.9,1471.9C258.0,1516.1 248.0,1571.7 229.1,1621.6" stroke="#000000"/><polygon points="224.3,1634.2 224.4,1619.8 233.8,1623.4" fill="#000000" stroke="#000000"/>
<path d="M409.0,1362.3L370.7,1464.5" stroke="#000000"/><polygon points="366.0,1477.1 366.1,1462.7 375.4,1466.2" fill="#000000" stroke="#000000"/>
<path d="M420.9,1362.3C421.3,1384.2 423.1,1406.1 422.2,1427.9C420.6,1464.6 418.7,1501.5 413.4,1537.8C409.3,1565.9 400.3,1593.3 393.7,1621.1" stroke="#000000"/><polygon points="390.6,1634.2 388.8,1619.9 398.6,1622.2" fill="#000000" stroke="#000000"/>
<path d="M422.2,1362.3C425.9,1384.2 431.2,1405.8 433.2,1427.9C438.5,1486.3 441.4,1545.1 444.2,1603.8C445.7,1635.8 445.1,1667.9 446.0,1700.0C446.6,1722.5 447.9,1745.0 448.9,1767.5" stroke="#000000"/><polygon points="449.5,1781.0 443.9,1767.7 453.9,1767.3" fill="#000000" stroke="#000000"/>
<path d="M564.3,1362.3L549.7,1620.7" stroke="#000000"/><polygon points="548.9,1634.2 544.7,1620.4 554.7,1621.0" fill="#000000" stroke="#000000"/>
<path d="M579.7,1362.3L636.5,1465.3" stroke="#000000"/><polygon points="643.0,1477.1 632.1,1467.7 640.9,1462.9" fill="#000000" stroke="#000000"/>
<path d="M557.7,1362.3C540.4,1413.5 521.6,1464.2 505.8,1515.8C492.5,1559.3 481.7,1603.6 470.6,1647.8C466.3,1665.0 462.0,1682.4 459.6,1700.0C456.5,1722.3 455.9,1745.0 454.1,1767.5" stroke="#000000"/><polygon points="453.0,1781.0 449.1,1767.1 459.1,1768.0" fill="#000000" stroke="#000000"/>
<path d="M334.3,1525.1L246.5,1624.1" stroke="#000000"/><polygon points="237.5,1634.2 242.7,1620.8 250.2,1627.4" fill="#000000" stroke="#000000"/>
<path d="M359.8,1525.1L374.8,1620.9" stroke="#000000"/><polygon points="376.9,1634.2 369.9,1621.6 379.7,1620.1" fill="#000000" stroke="#000000"/>
<path d="M343.0,1525.1C332.8,1548.4 317.0,1570.6 312.3,1595.0C307.5,1619.6 309.0,1647.5 314.5,1672.0C319.2,1693.1 329.5,1715.3 343.0,1732.0C356.7,1748.9 378.4,1759.2 396.1,1772.8" stroke="#000000"/><polygon points="406.8,1781.0 393.0,1776.7 399.1,1768.8" fill="#000000" stroke="#000000"/>
<path d="M391.4,1682.1L431.9,1768.8" stroke="#000000"/><polygon points="437.6,1781.0 427.4,1770.9 436.4,1766.7" fill="#000000" stroke="#000000"/>
<path d="M611.4,1525.1C580.6,1548.4 546.5,1568.6 519.0,1595.0C503.9,1609.5 492.0,1628.7 483.8,1647.8C477.0,1663.7 476.5,1682.5 474.0,1700.0C472.6,1709.9 473.6,1720.1 472.0,1730.0C469.9,1742.8 465.9,1755.3 462.8,1767.9" stroke="#000000"/><polygon points="459.6,1781.0 457.9,1766.7 467.6,1769.1" fill="#000000" stroke="#000000"/>
<path d="M640.8,1525.1L572.9,1623.1" stroke="#000000"/><polygon points="565.2,1634.2 568.8,1620.3 577.0,1626.0" fill="#000000" stroke="#000000"/>
<path d="M661.1,1525.1L679.2,1620.9" stroke="#000000"/><polygon points="681.7,1634.2 674.3,1621.9 684.1,1620.0" fill="#000000" stroke="#000000"/>
<path d="M683.9,1525.1L797.0,1625.2" stroke="#000000"/><polygon points="807.1,1634.2 793.7,1629.0 800.3,1621.5" fill="#000000" stroke="#000000"/>
<path d="M789.5,1525.1L603.4,1627.7" stroke="#000000"/><polygon points="591.6,1634.2 601.0,1623.3 605.8,1632.1" fill="#000000" stroke="#000000"/>
<path d="M844.5,1362.3L701.3,1469.0" stroke="#000000"/><polygon points="690.5,1477.1 698.3,1465.0 704.3,1473.0" fill="#000000" stroke="#000000"/>
<path d="M869.5,1362.3L841.5,1464.1" stroke="#000000"/><polygon points="837.9,1477.1 836.7,1462.8 846.3,1465.4" fill="#000000" stroke="#000000"/>
<path d="M897.2,1362.3L988.6,1466.9" stroke="#000000"/><polygon points="997.5,1477.1 984.9,1470.2 992.4,1463.6" fill="#000000" stroke="#000000"/>
<path d="M947.8,1362.3C965.2,1369.5 984.1,1374.0 1000.0,1383.9C1030.9,1403.2 1060.6,1425.7 1088.0,1449.9C1110.4,1469.7 1135.7,1490.0 1149.5,1515.8C1166.3,1547.2 1169.9,1586.1 1180.0,1621.2" stroke="#000000"/><polygon points="1183.8,1634.2 1175.2,1622.6 1184.8,1619.8" fill="#000000" stroke="#000000"/>
<path d="M952.2,1362.3C968.1,1365.8 985.8,1365.4 1000.0,1372.9C1038.4,1393.1 1076.7,1417.2 1110.0,1445.5C1150.0,1479.5 1185.7,1519.7 1219.9,1559.8C1237.0,1579.8 1252.5,1602.3 1263.9,1625.8C1273.0,1644.7 1281.5,1666.9 1281.5,1687.0C1281.5,1702.3 1271.9,1718.3 1263.9,1732.0C1255.7,1746.1 1243.2,1757.7 1232.8,1770.5" stroke="#000000"/><polygon points="1224.3,1781.0 1228.9,1767.4 1236.7,1773.6" fill="#000000" stroke="#000000"/>
<path d="M1014.7,1525.1L991.8,1621.1" stroke="#000000"/><polygon points="988.7,1634.2 987.0,1619.9 996.7,1622.2" fill="#000000" stroke="#000000"/>
<path d="M1033.6,1525.1C1043.1,1551.3 1057.3,1576.8 1062.2,1603.8C1066.1,1625.1 1066.0,1649.3 1060.0,1669.8C1053.5,1692.0 1042.3,1717.5 1024.8,1732.0C999.8,1752.7 963.2,1760.9 932.3,1775.3" stroke="#000000"/><polygon points="920.1,1781.0 930.2,1770.7 934.4,1779.8" fill="#000000" stroke="#000000"/>
<path d="M1040.2,1525.1C1052.7,1551.3 1070.3,1576.3 1077.6,1603.8C1083.6,1626.3 1082.2,1651.6 1080.0,1675.0C1078.3,1692.9 1072.5,1710.9 1066.0,1727.8C1060.4,1742.3 1051.2,1755.3 1043.8,1769.1" stroke="#000000"/><polygon points="1037.4,1781.0 1039.4,1766.7 1048.2,1771.5" fill="#000000" stroke="#000000"/>
<path d="M1044.0,1525.1L1150.6,1625.0" stroke="#000000"/><polygon points="1160.5,1634.2 1147.2,1628.6 1154.1,1621.3" fill="#000000" stroke="#000000"/>
<path d="M1039.6,1525.1C1052.8,1551.3 1070.0,1576.3 1079.2,1603.8C1086.1,1624.6 1081.6,1648.9 1088.0,1669.8C1093.4,1687.3 1103.5,1704.1 1114.4,1719.0C1128.3,1737.9 1146.4,1753.7 1162.4,1771.1" stroke="#000000"/><polygon points="1171.5,1781.0 1158.7,1774.5 1166.0,1767.7" fill="#000000" stroke="#000000"/>
<path d="M961.0,1682.1L882.1,1770.9" stroke="#000000"/><polygon points="873.1,1781.0 878.3,1767.6 885.8,1774.2" fill="#000000" stroke="#000000"/>
<path d="M1158.3,1682.1L1052.1,1772.3" stroke="#000000"/><polygon points="1041.8,1781.0 1048.9,1768.5 1055.3,1776.1" fill="#000000" stroke="#000000"/>
<path d="M1189.1,1682.1L1195.9,1767.5" stroke="#000000"/><polygon points="1197.0,1781.0 1190.9,1767.9 1200.9,1767.1" fill="#000000" stroke="#000000"/>
<path d="M2053.0,1828.9C2031.9,1845.0 2014.0,1868.4 1989.6,1877.3C1941.6,1894.8 1887.3,1899.7 1835.7,1908.0C1751.4,1921.5 1666.4,1931.2 1581.7,1942.8" stroke="#000000"/><polygon points="1568.3,1944.6 1581.0,1937.8 1582.4,1947.7" fill="#000000" stroke="#000000"/>
<path d="M2053.9,1828.9C2042.2,1845.0 2032.0,1862.5 2018.8,1877.3C2005.3,1892.5 1988.8,1904.9 1973.7,1918.8" stroke="#000000"/><polygon points="1963.8,1927.9 1970.3,1915.1 1977.1,1922.4" fill="#000000" stroke="#000000"/>
<path d="M2066.3,1828.9L2066.3,1914.4" stroke="#000000"/><polygon points="2066.3,1927.9 2061.3,1914.4 2071.3,1914.4" fill="#000000" stroke="#000000"/>
<path d="M2098.8,1828.9L2226.8,1920.1" stroke="#000000"/><polygon points="2237.8,1927.9 2223.9,1924.1 2229.7,1916.0" fill="#000000" stroke="#000000"/>
<path d="M1917.0,1975.8L1876.6,2062.2" stroke="#000000"/><polygon points="1870.9,2074.4 1872.1,2060.1 1881.1,2064.3" fill="#000000" stroke="#000000"/>
<path d="M1939.0,1975.8L1979.5,2062.2" stroke="#000000"/><polygon points="1985.2,2074.4 1974.9,2064.3 1984.0,2060.1" fill="#000000" stroke="#000000"/>
<path d="M2310.4,1975.8L2490.6,2069.8" stroke="#000000"/><polygon points="2502.6,2076.0 2488.3,2074.2 2492.9,2065.3" fill="#000000" stroke="#000000"/>
<path d="M1420.9,1960.9L117.6,2090.7" stroke="#000000"/><polygon points="104.2,2092.0 117.1,2085.7 118.1,2095.6" fill="#000000" stroke="#000000"/>
<path d="M1568.3,1967.5L2161.3,2085.8" stroke="#000000"/><polygon points="2174.5,2088.4 2160.3,2090.7 2162.2,2080.9" fill="#000000" stroke="#000000"/>
<path d="M59.8,2122.3L59.8,2207.8" stroke="#000000"/><polygon points="59.8,2221.3 54.8,2207.8 64.8,2207.8" fill="#000000" stroke="#000000"/>
<path d="M2178.0,1682.1L2097.3,1771.0" stroke="#000000"/><polygon points="2088.2,1781.0 2093.6,1767.6 2101.0,1774.4" fill="#000000" stroke="#000000"/>
<path d="M2195.6,1682.1L2181.5,1767.7" stroke="#000000"/><polygon points="2179.3,1781.0 2176.6,1766.9 2186.4,1768.5" fill="#000000" stroke="#000000"/>
<path d="M2202.6,1682.1C2206.6,1731.0 2212.2,1779.9 2214.5,1828.9C2218.2,1906.1 2218.6,1983.6 2220.6,2060.9" stroke="#000000"/><polygon points="2221.0,2074.4 2215.6,2061.0 2225.6,2060.8" fill="#000000" stroke="#000000"/>
<path d="M1926.0,408.2C1959.3,472.1 1992.3,536.2 2025.8,600.0C2050.3,646.8 2075.7,693.1 2100.0,740.0C2172.3,879.8 2241.7,1021.1 2315.5,1160.0C2336.3,1199.1 2369.9,1232.8 2383.8,1274.0C2400.0,1322.1 2401.4,1376.4 2405.8,1427.9C2409.5,1471.6 2410.0,1516.0 2408.0,1559.8C2406.3,1598.3 2398.9,1636.6 2394.8,1675.0C2390.9,1711.6 2391.9,1749.3 2383.8,1785.0C2373.6,1830.0 2355.3,1873.3 2339.8,1917.0C2331.9,1939.3 2325.1,1962.5 2313.4,1982.9C2297.0,2011.4 2274.7,2036.6 2255.4,2063.4" stroke="#6495ed"/><polygon points="2247.5,2074.4 2251.3,2060.5 2259.4,2066.4" fill="#6495ed" stroke="#6495ed"/><text x="2375.0" y="1256.4" fill="#6495ed" stroke="#6495ed" textLength="20.9" lengthAdjust="spacingAndGlyphs">test</text>
<path d="M1888.0,128.0C1855.3,143.9 1821.3,157.5 1790.0,175.7C1765.4,190.1 1743.4,208.9 1720.3,225.8C1714.5,230.0 1709.1,234.7 1703.5,239.2" stroke="#000000"/><polygon points="1693.0,247.6 1700.4,235.3 1706.7,243.1" fill="#000000" stroke="#000000"/>
<path d="M1888.0,90.0C1725.3,94.7 1562.6,98.1 1400.0,104.0C1299.8,107.7 1199.7,112.7 1099.6,118.8C966.3,127.0 833.0,135.7 700.0,147.0C583.8,156.9 468.1,175.0 351.9,182.5C308.0,185.3 263.9,179.7 219.9,178.0C187.6,176.8 155.0,171.6 123.0,173.7C99.3,175.3 73.7,179.4 52.8,189.0C40.1,194.8 28.0,207.5 22.0,220.0C15.3,233.9 14.8,251.8 14.5,268.0C12.3,378.5 14.5,489.3 14.5,600.0C14.5,833.3 14.5,1066.7 14.5,1300.0C14.5,1518.8 10.9,1738.0 14.5,1956.5C14.8,1977.3 21.2,1997.8 26.4,2018.0C30.3,2032.9 36.6,2047.1 41.7,2061.7" stroke="#000000"/><polygon points="46.2,2074.4 37.0,2063.3 46.4,2060.0" fill="#000000" stroke="#000000"/>
<path d="M1888.0,92.7C1725.3,100.6 1562.6,108.0 1400.0,116.3C1299.8,121.4 1199.7,126.4 1099.6,132.8C966.3,141.3 833.0,149.4 700.0,161.0C583.8,171.1 467.7,184.1 351.9,198.0C293.1,205.1 234.4,214.2 176.0,224.0C139.1,230.2 101.8,236.1 66.0,246.0C53.4,249.5 36.6,254.2 30.8,264.0C24.3,274.9 29.1,293.3 29.0,308.0C28.5,405.3 29.0,502.7 29.0,600.0C29.1,794.3 24.5,989.1 29.3,1183.0C30.1,1214.1 38.7,1244.7 45.8,1275.0C51.6,1299.7 62.3,1323.3 67.8,1348.0C71.8,1366.0 73.9,1384.6 74.4,1403.0C76.1,1468.6 74.3,1534.3 74.4,1600.0C74.5,1669.0 67.7,1739.9 74.8,1807.0C76.6,1823.6 87.9,1841.4 101.0,1851.0C121.7,1866.3 149.6,1876.9 176.0,1881.7C262.5,1897.4 351.5,1906.7 439.8,1912.5C659.4,1926.9 879.6,1934.4 1099.6,1942.4C1202.1,1946.1 1304.8,1946.0 1407.4,1947.8" stroke="#000000"/><polygon points="1420.9,1948.0 1407.3,1952.8 1407.5,1942.8" fill="#000000" stroke="#000000"/>
<path d="M1888.0,94.4C1725.3,109.9 1561.5,118.6 1400.0,140.8C1341.8,148.8 1285.5,168.5 1229.0,185.0C1185.3,197.8 1141.7,211.7 1099.6,228.7C1061.9,243.9 1022.4,258.6 989.6,281.5C963.7,299.6 940.6,325.0 923.6,351.9C898.0,392.5 876.6,438.0 862.0,483.8C850.2,520.7 845.6,561.2 844.5,600.0C843.6,630.3 848.3,661.6 856.0,691.0C867.5,734.9 886.5,777.1 902.0,820.0C908.7,838.6 915.7,857.2 922.8,875.7C930.0,894.3 935.2,914.2 945.0,931.4C953.8,946.7 970.8,957.7 978.6,973.2C984.8,985.5 982.3,1001.8 987.0,1015.0C991.5,1027.7 996.4,1042.8 1006.4,1051.0C1021.4,1063.2 1043.3,1068.0 1062.0,1076.0C1080.5,1083.9 1101.9,1087.5 1117.8,1098.6C1129.8,1107.1 1140.0,1121.1 1145.7,1134.8C1154.0,1154.9 1151.3,1179.7 1160.0,1200.0C1179.4,1244.8 1208.4,1285.8 1230.0,1330.0C1263.8,1399.1 1291.2,1471.5 1326.0,1540.0C1340.8,1569.1 1361.2,1595.2 1378.7,1622.8" stroke="#000000"/><polygon points="1386.0,1634.2 1374.5,1625.5 1383.0,1620.1" fill="#000000" stroke="#000000"/>
<path d="M1888.0,105.2C1725.3,135.6 1561.3,160.6 1400.0,196.5C1341.6,209.5 1286.3,234.5 1229.0,252.0C1186.2,265.0 1141.9,273.7 1099.6,288.0C1069.5,298.2 1038.0,308.5 1011.6,325.5C986.7,341.5 963.8,363.6 945.6,387.0C928.6,409.0 914.6,435.5 906.0,461.8C899.2,482.4 897.5,506.1 899.5,527.8C901.8,552.2 910.9,576.5 919.0,600.0C932.7,639.9 946.6,680.2 965.0,718.0C982.3,753.5 1006.5,785.5 1026.0,820.0C1038.8,842.7 1049.0,867.0 1062.0,889.6C1077.2,916.0 1094.5,941.1 1110.8,966.9" stroke="#000000"/><polygon points="1118.0,978.3 1106.6,969.6 1115.0,964.2" fill="#000000" stroke="#000000"/>
<path d="M1961.8,133.3C1923.8,191.5 1876.6,245.7 1847.7,308.0C1822.4,362.6 1815.0,425.3 1799.0,484.0C1792.9,506.3 1785.5,528.3 1781.6,551.0C1776.8,578.7 1779.3,607.8 1773.0,635.0C1766.3,663.7 1754.4,691.5 1742.6,718.6C1727.6,753.1 1712.3,788.1 1692.5,820.0C1674.7,848.6 1652.7,875.0 1630.0,900.0C1607.5,924.7 1581.2,946.0 1556.8,969.0" stroke="#000000"/><polygon points="1547.0,978.3 1553.4,965.4 1560.3,972.7" fill="#000000" stroke="#000000"/>
<path d="M1998.0,133.3C1999.0,155.5 2000.5,177.8 2001.0,200.0C2001.8,233.3 2003.0,266.7 2002.0,300.0C2001.0,336.7 2001.8,374.2 1995.0,410.0C1987.8,447.5 1973.3,484.0 1960.0,520.0C1949.9,547.3 1936.3,573.3 1924.7,600.0C1919.0,613.3 1914.4,627.1 1908.0,640.0C1892.9,670.4 1876.1,700.1 1860.0,730.0C1850.8,747.1 1840.9,763.8 1832.0,781.0C1821.6,801.1 1811.2,821.3 1802.0,842.0C1796.5,854.3 1790.6,866.9 1788.0,880.0C1785.3,893.6 1785.7,908.0 1786.0,922.0C1786.4,939.7 1787.6,957.5 1790.0,975.0C1791.8,988.5 1795.7,1001.7 1798.5,1015.0C1802.0,1031.3 1804.6,1047.9 1809.0,1064.0C1814.1,1082.9 1822.1,1101.0 1827.0,1120.0C1833.9,1146.4 1839.2,1173.2 1844.5,1200.0C1849.4,1224.6 1853.0,1249.4 1857.7,1274.0C1864.7,1310.7 1868.8,1348.4 1879.6,1384.0C1888.1,1412.0 1903.5,1437.8 1915.5,1464.8" stroke="#000000"/><polygon points="1921.0,1477.1 1910.9,1466.8 1920.1,1462.7" fill="#000000" stroke="#000000"/><text x="1865.6" y="1172.9" fill="#000000" stroke="#000000" textLength="42.9" lengthAdjust="spacingAndGlyphs">runtime</text>
<path d="M2000.5,133.3C2001.3,155.5 2002.3,177.8 2003.0,200.0C2004.1,233.3 2006.0,266.7 2006.0,300.0C2006.0,336.7 2005.7,373.5 2003.0,410.0C2000.3,446.8 1994.9,483.4 1990.0,520.0C1986.4,546.7 1982.0,573.4 1977.5,600.0C1975.2,613.4 1973.0,626.9 1969.5,640.0C1961.5,669.6 1952.5,698.9 1943.0,728.0C1936.0,749.2 1928.4,770.3 1920.0,791.0C1907.9,821.0 1896.4,851.4 1881.5,880.0C1862.3,916.7 1840.1,952.1 1817.8,987.0C1799.6,1015.4 1782.2,1045.0 1760.0,1070.0C1745.0,1086.9 1723.2,1097.3 1706.4,1112.5C1698.9,1119.3 1693.5,1128.2 1687.1,1136.0" stroke="#000000"/><polygon points="1678.5,1146.4 1683.2,1132.8 1690.9,1139.2" fill="#000000" stroke="#000000"/>
<path d="M1657.7,296.0L1581.2,443.7" stroke="#000000"/><polygon points="1575.0,455.7 1576.8,441.4 1585.6,446.0" fill="#000000" stroke="#000000"/>
<path d="M1669.6,296.0L1675.3,442.2" stroke="#000000"/><polygon points="1675.8,455.7 1670.3,442.4 1680.3,442.0" fill="#000000" stroke="#000000"/>
<path d="M1567.5,274.0C1511.7,276.0 1455.8,277.9 1400.0,280.0C1352.3,281.8 1304.4,280.9 1257.0,285.6C1219.6,289.3 1182.2,296.1 1145.7,305.0C1117.2,311.9 1088.5,320.8 1062.0,333.0C1043.9,341.3 1025.8,352.6 1012.0,366.4C1000.8,377.6 993.5,393.4 987.0,408.0C982.2,418.8 981.2,431.1 978.3,442.6" stroke="#000000"/><polygon points="975.0,455.7 973.4,441.4 983.1,443.8" fill="#000000" stroke="#000000"/>
<path d="M1567.5,272.6C1511.7,273.7 1455.8,274.1 1400.0,276.0C1352.3,277.6 1304.6,280.0 1257.0,283.0C1204.5,286.3 1152.1,290.7 1099.6,294.7C1054.7,298.1 1009.8,300.7 965.0,305.0C876.6,313.5 788.0,320.8 700.0,333.0C568.9,351.1 437.9,371.4 307.9,395.8C248.5,407.0 190.0,423.1 132.0,439.8C113.7,445.1 94.0,451.4 79.2,461.8C72.5,466.5 68.4,476.5 67.7,485.0C64.6,522.6 67.7,561.7 67.7,600.0C67.7,764.0 64.8,928.1 67.8,1092.0C68.5,1128.7 74.7,1165.1 78.8,1201.6C82.6,1235.8 88.6,1269.8 91.6,1304.0C93.5,1324.8 93.4,1345.7 93.5,1366.6C94.0,1444.4 93.6,1522.2 93.5,1600.0C93.5,1670.3 85.5,1742.9 93.2,1811.0C95.3,1829.4 108.4,1849.2 123.0,1859.7C143.3,1874.2 172.0,1881.5 198.0,1886.0C277.6,1899.8 358.8,1909.5 439.8,1914.7C659.4,1928.8 879.6,1936.0 1099.6,1944.0C1202.1,1947.7 1304.8,1947.8 1407.4,1949.7" stroke="#000000"/><polygon points="1420.9,1950.0 1407.3,1954.7 1407.5,1944.7" fill="#000000" stroke="#000000"/>
<path d="M1567.5,273.5C1511.7,278.7 1455.0,279.4 1400.0,289.0C1351.5,297.4 1303.5,311.5 1257.0,327.4C1228.0,337.3 1199.9,351.1 1173.5,366.4C1153.5,378.0 1135.6,393.3 1117.8,408.0C1105.9,417.8 1092.5,427.2 1084.4,440.0C1068.3,465.5 1055.9,494.5 1045.0,523.0C1038.1,540.9 1034.8,560.1 1031.0,579.0C1021.8,625.1 1014.3,671.7 1006.0,718.0C999.9,752.0 990.8,785.8 988.0,820.0C985.8,847.6 988.9,875.8 991.0,903.6C993.1,931.5 992.7,960.9 1000.8,987.0C1007.1,1007.3 1018.3,1029.4 1034.3,1042.8C1057.3,1062.0 1092.2,1067.5 1117.8,1084.6C1134.0,1095.4 1151.1,1109.5 1159.6,1126.4C1170.5,1148.0 1166.3,1177.0 1176.0,1200.0C1196.4,1248.2 1226.3,1292.8 1250.0,1340.0C1283.2,1406.2 1314.8,1473.2 1346.6,1540.0C1359.5,1567.1 1371.8,1594.6 1384.4,1621.9" stroke="#000000"/><polygon points="1390.0,1634.2 1379.8,1624.0 1388.9,1619.8" fill="#000000" stroke="#000000"/>
<path d="M1567.5,285.0C1511.7,297.3 1454.8,306.0 1400.0,321.8C1360.6,333.2 1322.0,348.6 1285.0,366.4C1240.0,388.0 1195.5,412.3 1154.0,440.0C1123.8,460.2 1095.5,484.5 1070.0,510.0C1058.5,521.5 1048.8,536.0 1043.0,551.0C1034.5,573.0 1029.6,597.4 1027.0,621.0C1025.0,639.4 1027.0,658.4 1029.0,677.0C1034.0,724.8 1037.9,773.3 1048.0,820.0C1053.2,844.3 1064.4,867.4 1075.0,890.0C1087.3,916.2 1102.7,941.0 1116.6,966.4" stroke="#000000"/><polygon points="1123.0,978.3 1112.2,968.8 1120.9,964.1" fill="#000000" stroke="#000000"/>
<path d="M1680.0,296.0C1688.7,320.7 1698.7,344.9 1706.0,370.0C1712.7,392.9 1717.0,416.6 1722.0,440.0C1726.3,459.9 1731.2,479.8 1734.0,500.0C1739.0,535.5 1743.9,571.3 1745.4,607.0C1746.2,625.6 1744.1,644.6 1741.0,663.0C1736.3,690.9 1730.7,719.1 1722.0,746.0C1713.7,771.5 1701.0,795.5 1690.0,820.0C1680.9,840.2 1673.8,861.8 1661.6,880.0C1647.1,901.8 1628.9,921.9 1610.0,940.0C1597.4,952.1 1581.3,960.3 1567.0,970.5" stroke="#000000"/><polygon points="1556.0,978.3 1564.1,966.4 1569.9,974.6" fill="#000000" stroke="#000000"/>
<path d="M1699.4,296.0C1714.6,317.3 1732.9,337.0 1745.0,360.0C1756.4,381.7 1763.8,406.1 1770.0,430.0C1776.0,452.8 1777.1,476.8 1781.6,500.0C1785.5,520.1 1790.1,540.1 1795.0,560.0C1801.7,586.8 1810.3,613.1 1816.4,640.0C1820.3,657.4 1822.7,675.3 1825.0,693.0C1827.9,716.3 1830.5,739.6 1832.0,763.0C1833.1,780.6 1833.3,798.3 1833.0,816.0C1832.6,840.0 1833.4,864.4 1830.0,888.0C1826.4,912.4 1818.8,936.2 1812.0,960.0C1807.1,976.9 1801.9,993.8 1795.0,1010.0C1786.2,1030.5 1776.9,1051.2 1765.0,1070.0C1753.6,1087.9 1739.3,1104.3 1725.0,1120.0C1718.8,1126.9 1710.6,1131.9 1703.4,1137.8" stroke="#000000"/><polygon points="1693.0,1146.4 1700.2,1134.0 1706.6,1141.7" fill="#000000" stroke="#000000"/>
<path d="M1709.0,296.0C1726.0,324.0 1744.6,351.2 1760.0,380.0C1770.3,399.2 1780.8,419.1 1786.0,440.0C1792.6,466.7 1794.1,495.2 1795.5,523.0C1797.4,561.9 1794.5,601.1 1796.0,640.0C1797.0,666.7 1802.8,693.3 1803.0,720.0C1803.2,746.0 1800.9,772.3 1797.0,798.0C1794.8,813.0 1788.5,827.3 1784.7,842.0C1781.5,854.6 1776.5,867.2 1776.0,880.0C1775.3,896.5 1778.8,913.4 1781.0,930.0C1783.2,946.7 1787.5,963.2 1789.0,980.0C1790.5,996.6 1793.6,1014.1 1790.0,1030.0C1785.6,1049.1 1776.7,1069.1 1765.0,1085.0C1753.4,1100.8 1735.6,1112.5 1720.0,1125.0C1713.1,1130.5 1705.0,1134.5 1697.4,1139.2" stroke="#000000"/><polygon points="1686.0,1146.4 1694.8,1135.0 1700.1,1143.4" fill="#000000" stroke="#000000"/>
<path d="M1714.8,296.0C1749.1,330.2 1784.7,363.3 1817.8,398.6C1829.7,411.3 1839.0,426.2 1849.6,440.0C1865.0,460.0 1881.4,479.3 1895.8,500.0C1911.7,522.9 1926.5,546.8 1940.4,571.0C1953.4,593.5 1965.1,616.7 1976.5,640.0C1986.5,660.2 1996.7,680.5 2004.6,701.6C2013.2,724.5 2018.7,748.6 2025.8,772.0C2030.7,788.0 2036.5,803.8 2040.7,820.0C2046.5,842.5 2050.2,865.5 2055.7,888.0C2061.0,909.6 2067.3,931.0 2073.0,952.5C2078.1,971.6 2083.8,990.7 2088.0,1010.0C2089.4,1016.5 2091.2,1023.6 2090.0,1030.0C2087.9,1040.9 2084.1,1052.5 2078.0,1062.0C2067.4,1078.5 2055.6,1097.2 2040.0,1108.0C2026.3,1117.5 2004.3,1114.4 1990.0,1123.0C1978.3,1130.0 1967.5,1142.6 1962.0,1155.0C1956.1,1168.3 1957.5,1184.9 1956.0,1200.0C1951.5,1246.3 1946.6,1292.6 1944.0,1339.0C1941.7,1380.5 1942.2,1422.1 1941.3,1463.6" stroke="#000000"/><polygon points="1941.0,1477.1 1936.3,1463.5 1946.3,1463.7" fill="#000000" stroke="#000000"/>
<path d="M1503.3,488.6C1445.1,498.1 1386.6,506.2 1328.7,517.2C1296.6,523.3 1264.9,531.6 1233.4,540.0C1214.0,545.2 1193.1,548.8 1176.0,558.0C1166.4,563.1 1160.4,574.3 1153.4,583.0C1148.6,588.9 1144.8,595.7 1140.6,602.0" stroke="#000000"/><polygon points="1133.0,613.2 1136.4,599.2 1144.7,604.8" fill="#000000" stroke="#000000"/>
<path d="M1503.3,484.0C1468.9,486.0 1434.3,486.3 1400.0,490.0C1287.2,502.3 1174.4,516.4 1062.0,532.0C1027.4,536.8 992.0,542.0 959.0,551.0C953.0,552.6 950.7,561.5 945.0,564.0C929.4,570.8 912.1,576.4 895.0,579.0C858.1,584.7 820.4,586.0 783.0,589.0C755.4,591.2 727.0,588.9 700.0,594.6C642.0,606.9 582.8,620.4 528.0,643.0C440.4,679.2 348.4,716.7 272.7,771.0C229.0,802.4 198.1,853.6 170.0,900.0C151.8,929.9 143.1,965.9 133.8,1000.0C123.1,1039.6 118.1,1080.7 110.0,1121.0C102.2,1160.0 93.6,1198.9 86.0,1238.0C78.9,1274.6 71.3,1311.2 66.0,1348.0C62.6,1371.8 60.2,1395.9 59.8,1420.0C58.2,1513.3 59.8,1606.7 59.8,1700.0C59.8,1820.3 59.8,1940.6 59.8,2060.9" stroke="#000000"/><polygon points="59.8,2074.4 54.8,2060.9 64.8,2060.9" fill="#000000" stroke="#000000"/>
<path d="M1503.3,486.0C1468.9,488.3 1434.2,488.8 1400.0,493.0C1296.5,505.8 1193.2,521.3 1090.0,537.0C1052.8,542.6 1015.6,548.8 979.0,557.0C969.2,559.2 960.8,566.0 951.0,568.0C914.1,575.4 876.3,579.4 839.0,585.0C820.3,587.8 801.2,588.3 783.0,593.0C754.8,600.3 727.2,610.4 700.0,621.0C627.5,649.2 554.1,676.1 484.0,709.5C400.0,749.6 310.0,786.8 237.5,841.5C203.7,867.0 185.8,912.3 165.0,950.0C156.7,965.1 154.6,983.2 150.0,1000.0C139.9,1036.6 127.9,1072.8 121.0,1110.0C114.2,1146.2 111.4,1183.2 108.9,1220.0C107.1,1246.6 108.1,1273.3 108.0,1300.0C107.7,1400.0 107.8,1500.0 107.8,1600.0C107.8,1669.0 101.3,1739.7 107.8,1807.0C109.4,1823.3 118.9,1842.3 132.0,1851.0C156.3,1867.2 189.6,1875.9 220.0,1881.7C292.2,1895.5 366.1,1905.2 439.8,1910.0C659.3,1924.3 879.6,1931.3 1099.6,1939.0C1202.1,1942.6 1304.8,1942.2 1407.4,1943.8" stroke="#000000"/><polygon points="1420.9,1944.0 1407.3,1948.8 1407.5,1938.8" fill="#000000" stroke="#000000"/>
<path d="M1503.3,487.7C1445.1,497.1 1386.6,505.0 1328.7,516.0C1296.6,522.1 1265.2,531.6 1233.4,539.0C1208.0,544.9 1182.0,548.8 1157.0,556.0C1137.6,561.6 1117.3,567.2 1100.0,577.2C1084.6,586.1 1070.7,599.1 1059.0,612.7C1046.0,627.7 1034.9,645.2 1026.0,663.0C1017.3,680.5 1010.0,699.4 1006.4,718.6C1000.2,751.7 999.2,786.1 996.7,820.0C994.7,847.8 992.0,875.8 993.0,903.6C994.1,931.5 994.8,960.9 1003.0,987.0C1009.1,1006.4 1021.4,1026.0 1036.0,1040.0C1053.7,1057.0 1079.5,1065.5 1100.0,1080.0C1118.2,1092.8 1139.2,1104.5 1152.0,1122.0C1168.5,1144.5 1174.8,1174.6 1188.0,1200.0C1212.5,1247.3 1240.9,1292.5 1265.0,1340.0C1298.5,1405.9 1331.0,1472.5 1360.9,1540.0C1372.5,1566.3 1380.0,1594.3 1389.5,1621.5" stroke="#000000"/><polygon points="1394.0,1634.2 1384.8,1623.1 1394.2,1619.8" fill="#000000" stroke="#000000"/>
<path d="M1503.3,500.0C1432.4,529.6 1358.5,553.7 1290.6,588.7C1253.0,608.1 1218.0,634.4 1187.0,663.0C1151.1,696.1 1120.5,735.7 1090.0,774.0C1078.9,788.0 1063.4,803.5 1062.0,820.0C1060.1,842.2 1071.0,867.8 1080.0,890.0C1090.8,916.7 1107.7,941.0 1121.6,966.4" stroke="#000000"/><polygon points="1128.0,978.3 1117.2,968.8 1125.9,964.1" fill="#000000" stroke="#000000"/>
<path d="M1529.0,504.0C1486.0,532.7 1437.4,554.9 1400.0,590.0C1334.0,651.9 1279.3,726.6 1218.9,794.9" stroke="#000000"/><polygon points="1210.0,805.0 1215.2,791.6 1222.7,798.2" fill="#000000" stroke="#000000"/><text x="1413.4" y="639.6" fill="#000000" stroke="#000000" textLength="42.9" lengthAdjust="spacingAndGlyphs">runtime</text>
<path d="M1540.0,504.0C1507.7,540.0 1467.2,571.8 1443.0,612.0C1427.9,637.1 1429.6,670.8 1422.0,700.0C1415.3,725.8 1406.8,751.2 1400.0,777.0C1398.2,783.7 1397.6,790.6 1396.4,797.4" stroke="#000000"/><polygon points="1394.0,810.7 1391.4,796.5 1401.3,798.3" fill="#000000" stroke="#000000"/>
<path d="M1562.7,504.0L1562.7,599.7" stroke="#000000"/><polygon points="1562.7,613.2 1557.7,599.7 1567.7,599.7" fill="#000000" stroke="#000000"/>
<path d="M1589.4,504.0C1609.8,529.0 1633.9,551.9 1650.7,579.0C1662.0,597.2 1667.0,619.4 1673.9,640.0C1679.4,656.4 1685.1,673.0 1688.0,690.0C1690.4,703.9 1690.4,718.4 1689.7,732.5C1689.0,746.4 1687.1,760.4 1684.0,774.0C1680.5,789.6 1675.6,805.0 1670.0,820.0C1662.3,840.4 1654.9,861.3 1644.0,880.0C1631.6,901.3 1616.4,921.7 1600.0,940.0C1589.6,951.6 1575.6,959.8 1563.5,969.8" stroke="#000000"/><polygon points="1553.0,978.3 1560.3,965.9 1566.6,973.6" fill="#000000" stroke="#000000"/>
<path d="M1595.0,504.0C1618.2,529.0 1645.7,551.3 1664.6,579.0C1676.7,596.7 1680.9,619.4 1688.0,640.0C1694.0,657.4 1700.4,675.0 1703.8,693.0C1707.0,710.0 1707.5,727.6 1708.0,745.0C1708.5,763.3 1707.4,781.7 1707.0,800.0C1706.3,826.7 1705.7,853.3 1704.7,880.0C1703.6,908.3 1702.0,936.5 1700.6,964.8" stroke="#000000"/><polygon points="1700.0,978.3 1695.7,964.6 1705.6,965.1" fill="#000000" stroke="#000000"/>
<path d="M1599.0,504.0C1625.5,527.2 1657.7,546.6 1678.6,573.7C1692.6,591.9 1695.6,617.8 1703.8,640.0C1710.4,657.6 1716.7,675.3 1723.0,693.0C1729.1,710.3 1735.2,727.6 1741.0,745.0C1746.9,762.6 1753.9,779.9 1758.0,798.0C1764.1,824.9 1771.1,852.8 1771.5,880.0C1771.8,896.8 1765.6,914.0 1760.0,930.0C1755.5,942.8 1747.5,954.2 1741.2,966.3" stroke="#000000"/><polygon points="1735.0,978.3 1736.8,964.0 1745.6,968.6" fill="#000000" stroke="#000000"/>
<path d="M1603.0,504.0C1632.8,526.3 1669.1,543.7 1692.5,571.0C1708.0,589.1 1710.5,617.0 1719.6,640.0C1726.6,657.7 1733.9,675.3 1741.0,693.0C1748.0,710.5 1754.7,728.2 1762.0,745.6C1769.4,763.2 1778.3,780.2 1785.0,798.0C1793.1,819.3 1794.1,845.1 1806.4,863.0C1816.8,878.0 1835.3,890.7 1853.0,896.8C1885.2,907.8 1921.7,908.2 1956.0,914.4C1975.6,917.9 1996.8,918.1 2014.6,926.0C2034.0,934.6 2055.1,947.5 2067.4,964.0C2078.5,978.9 2083.9,1001.3 2085.0,1020.0C2085.8,1032.7 2079.6,1046.7 2073.0,1058.0C2063.0,1075.1 2050.8,1094.0 2035.0,1105.0C2021.4,1114.5 1999.4,1111.1 1985.0,1119.6C1973.0,1126.7 1963.6,1139.9 1956.0,1152.0C1946.8,1166.7 1937.0,1182.9 1934.8,1200.0C1929.0,1245.6 1932.0,1293.3 1932.0,1340.0C1932.0,1381.2 1933.8,1422.4 1934.7,1463.6" stroke="#000000"/><polygon points="1935.0,1477.1 1929.7,1463.7 1939.7,1463.5" fill="#000000" stroke="#000000"/>
<path d="M1607.5,504.0C1631.2,519.8 1656.3,533.8 1678.6,551.4C1702.3,570.1 1723.8,591.6 1745.4,612.7C1754.0,621.1 1760.5,631.5 1769.0,640.0C1786.5,657.5 1805.7,673.3 1823.4,690.7C1836.2,703.2 1848.0,716.8 1860.4,729.7C1880.2,750.3 1900.2,770.7 1920.0,791.3C1929.2,800.8 1938.3,810.4 1947.4,820.0C1966.5,840.0 1985.6,859.9 2004.6,880.0C2027.5,904.1 2050.4,928.2 2073.0,952.5C2107.5,989.5 2141.9,1026.6 2176.0,1064.0C2192.8,1082.4 2210.9,1099.9 2225.5,1120.0C2250.9,1155.2 2270.7,1194.6 2296.0,1230.0C2317.9,1260.6 2349.8,1285.8 2367.0,1318.0C2377.2,1337.1 2378.6,1362.0 2378.0,1384.0C2377.1,1413.4 2375.9,1446.4 2362.5,1472.0C2341.3,1512.5 2304.4,1546.2 2274.4,1582.5C2262.5,1596.9 2249.5,1610.3 2237.0,1624.2" stroke="#000000"/><polygon points="2228.0,1634.2 2233.3,1620.8 2240.7,1627.5" fill="#000000" stroke="#000000"/>
<path d="M1541.0,661.6L1420.1,800.5" stroke="#000000"/><polygon points="1411.2,810.7 1416.3,797.2 1423.8,803.8" fill="#000000" stroke="#000000"/>
<path d="M1561.6,661.6L1556.5,797.2" stroke="#000000"/><polygon points="1556.0,810.7 1551.5,797.0 1561.5,797.4" fill="#000000" stroke="#000000"/>
<path d="M1463.6,657.0C1437.7,660.7 1412.0,666.2 1386.0,668.0C1348.0,670.7 1309.5,667.5 1271.6,670.6C1252.2,672.2 1233.2,678.0 1214.0,682.0C1200.6,684.8 1185.6,684.3 1174.0,691.0C1148.9,705.6 1122.1,723.5 1104.0,746.0C1087.4,766.5 1073.4,794.5 1070.0,820.0C1067.0,842.5 1076.5,868.0 1085.0,890.0C1095.3,916.8 1112.7,941.0 1126.6,966.4" stroke="#000000"/><polygon points="1133.0,978.3 1122.2,968.8 1130.9,964.1" fill="#000000" stroke="#000000"/>
<path d="M1463.6,660.0C1412.3,673.3 1360.7,685.5 1309.7,700.0C1291.8,705.1 1274.2,711.4 1257.0,718.6C1210.3,738.1 1160.1,754.4 1118.0,780.0C1104.5,788.2 1098.4,806.1 1090.0,820.0C1085.4,827.6 1081.4,835.9 1079.0,844.5C1074.0,862.6 1073.0,881.9 1068.0,900.0C1063.3,917.0 1056.1,933.4 1050.0,950.0C1043.8,966.7 1032.8,983.0 1031.0,1000.0C1029.5,1014.6 1032.2,1032.7 1040.0,1045.0C1050.2,1061.1 1068.1,1074.7 1085.0,1085.0C1104.8,1097.0 1132.0,1098.2 1150.0,1112.0C1169.0,1126.5 1183.1,1149.1 1196.0,1170.0C1211.5,1195.1 1225.6,1222.0 1235.0,1250.0C1253.6,1305.7 1269.9,1363.1 1280.0,1421.0C1290.2,1479.8 1291.5,1540.3 1296.0,1600.0C1297.9,1624.9 1292.1,1651.3 1299.0,1675.0C1313.4,1724.6 1332.9,1776.0 1360.0,1820.0C1382.8,1857.0 1419.3,1885.3 1448.9,1917.9" stroke="#000000"/><polygon points="1458.0,1927.9 1445.2,1921.3 1452.6,1914.5" fill="#000000" stroke="#000000"/>
<path d="M1492.7,661.6C1461.8,674.4 1429.7,684.9 1400.0,700.0C1374.5,713.0 1347.8,727.0 1327.0,746.0C1311.2,760.4 1296.8,780.1 1290.0,800.0C1282.8,821.4 1284.2,846.7 1285.0,870.0C1285.9,896.7 1289.9,923.7 1295.0,950.0C1301.5,983.7 1311.5,1016.7 1320.0,1050.0C1326.5,1075.4 1334.5,1100.4 1340.0,1126.0C1345.2,1150.4 1349.2,1175.2 1352.0,1200.0C1357.6,1249.8 1360.2,1300.0 1365.0,1350.0C1371.1,1413.4 1376.3,1476.9 1384.5,1540.0C1388.1,1567.2 1395.1,1594.0 1400.4,1621.0" stroke="#000000"/><polygon points="1403.0,1634.2 1395.5,1621.9 1405.3,1620.0" fill="#000000" stroke="#000000"/>
<path d="M1581.0,661.6C1596.1,686.7 1613.1,710.9 1626.4,736.8C1633.5,750.6 1638.9,765.7 1642.2,780.7C1644.7,792.1 1646.0,804.6 1644.0,816.0C1641.3,831.1 1635.1,846.4 1628.0,860.0C1624.0,867.7 1614.7,872.3 1610.5,880.0C1602.0,895.6 1598.1,914.0 1590.0,930.0C1583.4,943.0 1574.2,954.6 1566.3,966.9" stroke="#000000"/><polygon points="1559.0,978.3 1562.1,964.2 1570.5,969.6" fill="#000000" stroke="#000000"/>
<path d="M1601.8,661.6C1612.9,677.9 1625.9,693.1 1635.2,710.4C1644.1,726.9 1651.2,745.0 1656.3,763.0C1659.4,774.2 1660.3,786.4 1659.8,798.0C1659.1,812.7 1656.2,827.7 1652.8,842.0C1651.3,848.3 1650.3,857.2 1645.0,860.0C1631.0,867.5 1612.0,870.8 1595.0,873.0C1542.4,879.8 1487.9,878.6 1436.0,887.0C1424.6,888.8 1411.7,895.4 1405.0,903.6C1399.7,910.1 1400.8,921.8 1400.0,931.0C1398.1,953.9 1395.2,977.4 1397.0,1000.0C1397.9,1011.0 1400.5,1024.0 1408.0,1031.7C1428.1,1052.3 1455.7,1067.7 1480.0,1085.0C1505.0,1102.8 1530.6,1119.6 1555.9,1136.9" stroke="#000000"/><polygon points="1567.0,1144.5 1553.0,1141.0 1558.7,1132.8" fill="#000000" stroke="#000000"/>
<path d="M1607.0,661.6C1622.3,677.9 1640.2,692.3 1652.8,710.4C1663.7,726.1 1670.5,745.0 1677.4,763.0C1684.0,780.2 1689.9,798.0 1693.2,816.0C1697.0,837.0 1697.9,858.6 1698.5,880.0C1699.3,908.2 1697.6,936.5 1697.2,964.8" stroke="#000000"/><polygon points="1697.0,978.3 1692.2,964.7 1702.2,964.9" fill="#000000" stroke="#000000"/>
<path d="M1611.5,661.6C1631.1,674.9 1652.9,686.0 1670.4,701.6C1684.3,714.0 1695.8,729.7 1705.6,745.6C1715.7,761.9 1722.1,780.5 1730.2,798.0C1735.6,809.8 1741.8,821.3 1746.0,833.5C1751.2,848.6 1757.3,864.3 1758.3,880.0C1759.3,896.5 1756.1,913.9 1752.0,930.0C1748.8,942.5 1741.6,953.9 1736.4,965.9" stroke="#000000"/><polygon points="1731.0,978.3 1731.8,963.9 1741.0,967.9" fill="#000000" stroke="#000000"/>
<path d="M1626.4,661.6C1646.9,673.7 1670.3,682.7 1688.0,698.0C1702.6,710.7 1713.4,728.6 1723.2,745.6C1731.0,759.2 1735.6,774.7 1740.7,789.6C1745.6,804.0 1745.9,820.4 1753.0,833.5C1762.3,850.6 1777.2,864.9 1790.0,880.0C1795.9,887.0 1801.2,895.1 1809.0,899.7C1832.1,913.4 1856.7,929.1 1882.6,935.0C1910.5,941.3 1941.7,932.9 1970.6,936.4C1990.5,938.8 2011.6,943.3 2029.0,952.5C2045.7,961.4 2062.4,975.6 2073.0,990.6C2079.0,999.1 2080.6,1012.6 2079.0,1023.0C2076.8,1037.1 2069.7,1051.9 2061.5,1064.0C2051.2,1079.2 2038.8,1095.5 2023.4,1105.0C2005.6,1116.0 1979.6,1114.3 1961.8,1125.5C1945.1,1136.0 1932.8,1154.3 1920.0,1170.0C1912.5,1179.1 1906.5,1189.5 1901.0,1200.0C1886.5,1227.4 1871.8,1254.9 1860.0,1283.6C1842.1,1327.3 1824.8,1371.8 1812.0,1417.0C1806.4,1436.7 1805.3,1457.9 1805.0,1478.5C1804.5,1512.3 1805.7,1546.4 1809.5,1580.0C1813.1,1611.9 1817.9,1644.2 1827.0,1675.0C1850.9,1755.9 1881.2,1835.1 1908.4,1915.1" stroke="#000000"/><polygon points="1912.7,1927.9 1903.6,1916.7 1913.1,1913.5" fill="#000000" stroke="#000000"/>
<path d="M1092.8,856.0C1054.7,871.9 1014.9,884.6 978.6,903.6C958.2,914.3 940.5,930.2 922.8,945.0C914.7,951.8 908.4,960.6 901.2,968.4" stroke="#000000"/><polygon points="892.0,978.3 897.5,965.0 904.8,971.8" fill="#000000" stroke="#000000"/><text x="981.7" y="920.6" fill="#000000" stroke="#000000" textLength="42.9" lengthAdjust="spacingAndGlyphs">runtime</text>
<path d="M1140.6,863.5C1123.4,876.5 1104.7,888.0 1089.0,902.6C1076.8,913.9 1064.1,926.4 1056.8,941.0C1047.9,958.8 1042.5,980.1 1040.6,1000.0C1039.3,1013.8 1039.9,1030.7 1047.0,1042.0C1057.0,1058.0 1075.3,1071.2 1092.0,1082.0C1111.3,1094.5 1137.5,1097.7 1155.0,1112.0C1173.5,1127.0 1187.2,1149.3 1200.0,1170.0C1215.6,1195.3 1230.5,1221.9 1240.0,1250.0C1258.8,1305.6 1273.5,1363.3 1285.0,1421.0C1296.8,1480.0 1301.5,1540.4 1310.0,1600.0C1313.5,1625.0 1313.1,1651.2 1321.0,1675.0C1339.7,1731.2 1361.2,1788.6 1390.0,1840.0C1406.6,1869.5 1434.8,1891.8 1457.2,1917.7" stroke="#000000"/><polygon points="1466.0,1927.9 1453.4,1921.0 1461.0,1914.4" fill="#000000" stroke="#000000"/><text x="1285.4" y="1424.9" fill="#000000" stroke="#000000" textLength="42.9" lengthAdjust="spacingAndGlyphs">runtime</text>
<path d="M1177.7,863.5L1158.2,965.0" stroke="#000000"/><polygon points="1155.6,978.3 1153.2,964.1 1163.1,966.0" fill="#000000" stroke="#000000"/><text x="1190.4" y="920.6" fill="#000000" stroke="#000000" textLength="42.9" lengthAdjust="spacingAndGlyphs">runtime</text>
<path d="M1200.3,863.5C1222.4,909.0 1242.1,956.4 1266.5,1000.0C1270.3,1006.9 1281.7,1008.0 1285.0,1015.0C1301.7,1050.1 1315.3,1088.6 1326.7,1126.4C1333.9,1150.2 1338.1,1175.2 1340.7,1200.0C1345.9,1249.7 1346.0,1300.1 1350.0,1350.0C1355.0,1413.4 1357.6,1477.5 1367.7,1540.0C1372.2,1568.0 1385.1,1594.2 1393.9,1621.3" stroke="#000000"/><polygon points="1398.0,1634.2 1389.1,1622.9 1398.6,1619.8" fill="#000000" stroke="#000000"/><text x="1366.8" y="1256.4" fill="#000000" stroke="#000000" textLength="42.9" lengthAdjust="spacingAndGlyphs">runtime</text>
<path d="M1226.5,863.5C1284.3,891.7 1342.6,919.1 1400.0,948.0C1414.2,955.1 1427.5,963.7 1441.3,971.6" stroke="#000000"/><polygon points="1453.0,978.3 1438.8,975.9 1443.8,967.3" fill="#000000" stroke="#000000"/><text x="1374.7" y="920.6" fill="#000000" stroke="#000000" textLength="42.9" lengthAdjust="spacingAndGlyphs">runtime</text>
<path d="M1275.3,850.0C1316.9,867.9 1358.0,886.8 1400.0,903.6C1432.9,916.8 1466.5,928.4 1500.0,940.0C1534.6,951.9 1569.6,962.7 1604.5,974.1" stroke="#000000"/><polygon points="1617.3,978.3 1602.9,978.9 1606.0,969.4" fill="#000000" stroke="#000000"/>
<path d="M1275.3,847.0C1316.9,858.0 1357.6,875.2 1400.0,880.0C1454.9,886.2 1511.8,875.3 1567.0,880.0C1604.7,883.2 1641.3,896.1 1678.6,903.6C1712.3,910.4 1746.3,916.2 1780.0,923.0C1861.1,939.3 1943.7,952.8 2023.0,973.0C2032.0,975.3 2040.9,983.3 2045.0,990.6C2047.9,995.9 2045.5,1004.4 2044.0,1011.0C2041.1,1023.9 2039.5,1038.5 2032.0,1049.0C2019.9,1065.9 2002.1,1080.3 1985.0,1093.0C1969.0,1104.9 1945.0,1107.9 1932.5,1122.6C1914.6,1143.6 1903.0,1172.9 1894.0,1200.0C1885.2,1226.6 1880.6,1255.5 1879.0,1283.6C1877.5,1311.2 1879.8,1339.7 1884.7,1367.0C1890.6,1399.9 1902.5,1431.7 1911.4,1464.1" stroke="#000000"/><polygon points="1915.0,1477.1 1906.6,1465.4 1916.2,1462.8" fill="#000000" stroke="#000000"/>
<path d="M1313.0,858.6L961.8,974.1" stroke="#000000"/><polygon points="949.0,978.3 960.3,969.3 963.4,978.8" fill="#000000" stroke="#000000"/>
<path d="M1354.0,858.6L1196.0,970.5" stroke="#000000"/><polygon points="1185.0,978.3 1193.1,966.4 1198.9,974.6" fill="#000000" stroke="#000000"/>
<path d="M1418.0,858.6C1432.0,872.4 1446.9,885.4 1460.0,900.0C1468.7,909.7 1478.1,919.8 1483.6,931.4C1488.4,941.5 1488.4,953.9 1490.8,965.1" stroke="#000000"/><polygon points="1493.6,978.3 1485.9,966.1 1495.7,964.1" fill="#000000" stroke="#000000"/><text x="1476.8" y="920.6" fill="#000000" stroke="#000000" textLength="42.9" lengthAdjust="spacingAndGlyphs">runtime</text>
<path d="M1461.3,858.6C1505.9,863.4 1551.1,865.1 1595.0,872.9C1614.3,876.3 1634.4,882.3 1650.7,892.4C1666.0,901.8 1680.6,916.4 1690.0,931.4C1695.8,940.6 1694.1,953.8 1696.1,965.0" stroke="#000000"/><polygon points="1698.5,978.3 1691.2,965.9 1701.0,964.1" fill="#000000" stroke="#000000"/>
<path d="M1367.8,858.6C1347.9,891.1 1318.8,920.8 1308.0,956.0C1297.6,989.9 1302.4,1029.5 1304.0,1066.0C1305.4,1097.5 1316.6,1128.5 1317.0,1160.0C1317.9,1234.5 1310.7,1309.3 1308.0,1384.0C1306.4,1428.0 1302.5,1472.1 1304.0,1516.0C1305.5,1560.1 1308.6,1605.1 1317.0,1648.0C1320.6,1666.4 1331.6,1683.0 1340.0,1700.0C1357.9,1736.0 1375.6,1772.4 1396.0,1807.0C1418.1,1844.6 1443.7,1880.1 1467.6,1916.6" stroke="#000000"/><polygon points="1475.0,1927.9 1463.4,1919.3 1471.8,1913.9" fill="#000000" stroke="#000000"/><text x="1350.5" y="1004.6" fill="#000000" stroke="#000000" textLength="42.9" lengthAdjust="spacingAndGlyphs">runtime</text>
<path d="M1379.7,858.6C1377.9,891.1 1374.5,923.5 1374.4,956.0C1374.2,992.7 1377.6,1029.3 1378.8,1066.0C1379.8,1097.3 1379.0,1128.7 1381.0,1160.0C1384.8,1220.1 1391.6,1280.0 1396.0,1340.0C1400.9,1406.6 1405.0,1473.3 1408.7,1540.0C1410.2,1566.9 1410.6,1593.8 1411.5,1620.7" stroke="#000000"/><polygon points="1412.0,1634.2 1406.5,1620.9 1416.5,1620.5" fill="#000000" stroke="#000000"/>
<path d="M1383.2,858.6C1383.8,891.1 1383.4,923.6 1385.0,956.0C1386.4,984.0 1384.8,1013.6 1392.0,1040.0C1396.5,1056.6 1407.3,1073.5 1420.0,1085.0C1436.6,1100.1 1459.5,1109.3 1480.0,1120.0C1495.4,1128.0 1511.8,1134.0 1527.6,1141.0" stroke="#000000"/><polygon points="1540.0,1146.4 1525.6,1145.5 1529.7,1136.4" fill="#000000" stroke="#000000"/>
<path d="M1477.7,856.0C1485.1,860.7 1491.6,868.0 1500.0,870.0C1532.3,877.7 1566.8,879.2 1600.0,885.0C1633.5,890.9 1666.4,900.0 1700.0,905.0C1726.4,909.0 1753.9,906.9 1780.0,912.0C1800.1,915.9 1818.4,930.4 1838.6,932.0C1877.0,935.1 1917.0,925.1 1956.0,926.0C1975.7,926.4 1996.9,928.4 2014.6,936.0C2032.6,943.7 2051.6,956.7 2063.0,972.0C2072.4,984.7 2076.8,1004.1 2077.0,1020.0C2077.1,1032.8 2071.1,1047.0 2064.0,1058.0C2053.5,1074.3 2040.2,1091.7 2024.0,1102.0C2007.2,1112.7 1982.0,1110.5 1965.0,1121.0C1950.6,1129.9 1938.2,1145.2 1930.0,1160.0C1923.5,1171.6 1921.3,1186.4 1920.9,1200.0C1919.6,1246.4 1923.2,1293.4 1925.0,1340.0C1926.6,1381.2 1929.2,1422.4 1931.3,1463.6" stroke="#000000"/><polygon points="1932.0,1477.1 1926.3,1463.9 1936.3,1463.4" fill="#000000" stroke="#000000"/>
<path d="M1165.0,1026.2L1235.7,1135.1" stroke="#000000"/><polygon points="1243.0,1146.4 1231.5,1137.8 1239.8,1132.4" fill="#000000" stroke="#000000"/>
<path d="M1187.5,1026.2C1210.7,1039.1 1233.7,1052.2 1257.0,1065.0C1284.6,1080.2 1314.7,1091.8 1340.0,1110.0C1362.4,1126.1 1381.3,1147.5 1400.0,1168.0C1408.7,1177.5 1420.6,1187.4 1422.0,1200.0C1429.0,1264.8 1425.2,1333.3 1425.0,1400.0C1424.9,1446.7 1422.0,1493.3 1421.0,1540.0C1420.4,1566.9 1420.4,1593.8 1420.1,1620.7" stroke="#000000"/><polygon points="1420.0,1634.2 1415.1,1620.6 1425.1,1620.8" fill="#000000" stroke="#000000"/>
<path d="M1200.0,1026.2C1244.9,1057.5 1291.8,1086.1 1334.6,1120.0C1386.7,1161.3 1445.2,1200.0 1484.6,1252.0C1523.0,1302.7 1539.0,1369.9 1568.0,1428.0C1597.7,1487.5 1630.9,1545.2 1660.8,1604.6C1674.9,1632.6 1683.3,1663.9 1700.0,1690.0C1712.4,1709.4 1727.7,1730.8 1748.0,1741.0C1794.3,1764.2 1848.6,1776.9 1900.0,1790.0C1928.1,1797.1 1957.6,1797.8 1986.4,1801.7" stroke="#000000"/><polygon points="1999.8,1803.5 1985.8,1806.6 1987.1,1796.7" fill="#000000" stroke="#000000"/>
<path d="M1215.3,1026.2C1276.9,1045.7 1339.6,1062.0 1400.0,1084.6C1441.7,1100.2 1481.0,1122.0 1521.4,1140.7" stroke="#000000"/><polygon points="1533.7,1146.4 1519.3,1145.3 1523.5,1136.2" fill="#000000" stroke="#000000"/>
<path d="M1610.0,1194.3C1589.3,1242.9 1568.5,1291.4 1548.0,1340.0C1519.9,1406.6 1490.8,1472.9 1464.0,1540.0C1453.3,1566.7 1445.0,1594.3 1435.5,1621.5" stroke="#000000"/><polygon points="1431.0,1634.2 1430.7,1619.8 1440.2,1623.1" fill="#000000" stroke="#000000"/>
<path d="M1614.5,1194.3C1608.3,1229.5 1599.4,1264.5 1596.0,1300.0C1592.8,1333.1 1594.8,1366.7 1594.7,1400.0C1594.4,1506.7 1594.7,1613.3 1594.7,1720.0C1594.7,1749.0 1598.1,1778.5 1594.7,1807.0C1592.5,1825.2 1585.8,1843.4 1578.0,1860.0C1568.6,1879.8 1554.7,1897.6 1543.1,1916.4" stroke="#000000"/><polygon points="1536.0,1927.9 1538.8,1913.8 1547.4,1919.0" fill="#000000" stroke="#000000"/>
<path d="M1634.3,1194.3C1672.4,1257.5 1708.4,1322.1 1748.6,1384.0C1790.5,1448.4 1837.1,1509.7 1880.6,1573.0C1907.2,1611.7 1930.5,1652.9 1959.0,1690.0C1981.2,1718.9 2008.3,1744.0 2032.9,1771.0" stroke="#000000"/><polygon points="2042.0,1781.0 2029.2,1774.4 2036.6,1767.7" fill="#000000" stroke="#000000"/>
<path d="M1680.0,1194.3L1977.4,1309.5" stroke="#000000"/><polygon points="1990.0,1314.4 1975.6,1314.2 1979.2,1304.9" fill="#000000" stroke="#000000"/>
<path d="M1439.0,1026.2C1426.0,1034.5 1411.0,1040.7 1400.0,1051.0C1390.3,1060.1 1380.3,1072.2 1377.0,1084.6C1373.6,1097.3 1376.8,1112.9 1380.0,1126.4C1384.5,1145.4 1396.9,1162.7 1400.0,1182.0C1406.2,1220.6 1406.4,1260.6 1408.0,1300.0C1411.3,1380.0 1412.9,1460.0 1414.9,1540.0C1415.6,1566.9 1415.5,1593.8 1415.8,1620.7" stroke="#000000"/><polygon points="1416.0,1634.2 1410.8,1620.8 1420.8,1620.6" fill="#000000" stroke="#000000"/>
<path d="M1496.0,1026.2C1490.7,1050.8 1483.7,1075.1 1480.0,1100.0C1475.1,1133.1 1471.7,1166.6 1470.0,1200.0C1466.7,1266.6 1463.7,1333.4 1465.0,1400.0C1466.3,1466.7 1472.9,1533.4 1478.0,1600.0C1480.3,1630.1 1485.5,1659.9 1487.0,1690.0C1490.7,1764.7 1491.4,1839.6 1493.6,1914.4" stroke="#000000"/><polygon points="1494.0,1927.9 1488.6,1914.6 1498.6,1914.3" fill="#000000" stroke="#000000"/>
<path d="M1517.0,1026.2L1592.9,1135.3" stroke="#000000"/><polygon points="1600.6,1146.4 1588.8,1138.2 1597.0,1132.5" fill="#000000" stroke="#000000"/>
<path d="M1578.0,1026.2C1630.0,1037.3 1681.8,1049.7 1734.0,1059.5C1749.1,1062.3 1764.8,1061.3 1780.0,1064.0C1861.2,1078.5 1942.1,1094.9 2023.0,1111.0C2064.3,1119.2 2108.3,1124.0 2146.6,1137.0C2154.3,1139.6 2159.7,1150.0 2161.0,1157.8C2163.2,1171.0 2157.9,1185.9 2157.0,1200.0C2155.9,1217.3 2156.3,1234.7 2155.0,1252.0C2151.3,1303.4 2149.3,1355.1 2142.0,1406.0C2134.6,1457.8 2120.4,1508.5 2111.0,1560.0C2101.3,1613.2 2093.6,1666.7 2084.7,1720.0C2082.0,1735.9 2079.1,1751.8 2076.3,1767.7" stroke="#000000"/><polygon points="2074.0,1781.0 2071.4,1766.8 2081.3,1768.6" fill="#000000" stroke="#000000"/>
<path d="M1614.5,1026.2C1580.1,1041.0 1542.9,1051.5 1511.4,1070.7C1488.1,1084.9 1462.3,1103.6 1450.0,1126.4C1439.1,1146.7 1442.7,1175.4 1441.8,1200.0C1439.4,1266.6 1440.4,1333.3 1440.0,1400.0C1439.8,1446.7 1442.5,1493.5 1440.0,1540.0C1438.5,1567.1 1432.0,1593.9 1428.0,1620.8" stroke="#000000"/><polygon points="1426.0,1634.2 1423.0,1620.1 1432.9,1621.6" fill="#000000" stroke="#000000"/>
<path d="M1639.6,1026.2C1615.4,1041.0 1588.5,1052.7 1567.0,1070.7C1548.6,1086.1 1528.1,1104.9 1519.8,1126.4C1511.4,1148.0 1517.3,1175.5 1517.0,1200.0C1515.8,1300.0 1515.8,1400.0 1515.5,1500.0C1515.3,1600.0 1517.8,1700.1 1515.5,1800.0C1514.6,1838.2 1509.2,1876.3 1506.1,1914.4" stroke="#000000"/><polygon points="1505.0,1927.9 1501.1,1914.0 1511.1,1914.9" fill="#000000" stroke="#000000"/>
<path d="M1682.7,1026.2L1636.3,1134.0" stroke="#000000"/><polygon points="1631.0,1146.4 1631.7,1132.0 1640.9,1136.0" fill="#000000" stroke="#000000"/>
<path d="M1699.4,1026.2C1704.6,1050.8 1711.1,1075.2 1715.0,1100.0C1719.1,1126.5 1723.0,1153.2 1723.5,1180.0C1725.9,1319.9 1723.5,1460.0 1723.5,1600.0C1723.5,1625.0 1720.1,1650.6 1723.5,1675.0C1725.6,1690.3 1728.4,1710.0 1740.0,1719.0C1766.2,1739.3 1803.2,1752.1 1836.8,1763.0C1885.5,1778.8 1936.7,1786.9 1986.7,1798.9" stroke="#000000"/><polygon points="1999.8,1802.0 1985.5,1803.7 1987.8,1794.0" fill="#000000" stroke="#000000"/>
<path d="M1703.6,1026.2L1753.6,1134.2" stroke="#000000"/><polygon points="1759.3,1146.4 1749.1,1136.3 1758.2,1132.0" fill="#000000" stroke="#000000"/>
<path d="M1875.3,1525.1C1824.0,1545.4 1774.2,1570.2 1721.5,1586.0C1648.5,1607.8 1572.7,1620.6 1498.2,1637.9" stroke="#000000"/><polygon points="1485.1,1641.0 1497.1,1633.1 1499.4,1642.8" fill="#000000" stroke="#000000"/>
<path d="M1923.7,1525.1C1911.5,1543.4 1898.8,1561.4 1887.0,1580.0C1857.6,1626.4 1830.5,1674.3 1800.0,1720.0C1774.8,1757.7 1749.9,1796.3 1720.0,1830.0C1696.6,1856.3 1668.8,1880.0 1640.0,1900.0C1622.4,1912.2 1600.4,1917.7 1580.6,1926.5" stroke="#000000"/><polygon points="1568.3,1932.0 1578.6,1921.9 1582.7,1931.1" fill="#000000" stroke="#000000"/>
<path d="M1948.7,1525.1C1969.1,1575.1 1990.1,1624.8 2010.0,1675.0C2022.3,1705.9 2033.5,1737.2 2045.2,1768.4" stroke="#000000"/><polygon points="2050.0,1781.0 2040.6,1770.1 2049.9,1766.6" fill="#000000" stroke="#000000"/>
<path d="M1978.0,1525.1L2141.5,1627.1" stroke="#000000"/><polygon points="2153.0,1634.2 2138.9,1631.3 2144.2,1622.8" fill="#000000" stroke="#000000"/>
<path d="M2016.0,1362.3C1926.6,1413.5 1839.8,1469.9 1747.7,1515.8C1661.4,1558.8 1569.8,1591.2 1480.8,1628.9" stroke="#000000"/><polygon points="1468.4,1634.2 1478.9,1624.3 1482.8,1633.5" fill="#000000" stroke="#000000"/>
<path d="M2038.5,1362.3L1965.0,1466.1" stroke="#000000"/><polygon points="1957.2,1477.1 1960.9,1463.2 1969.1,1469.0" fill="#000000" stroke="#000000"/>
<path d="M2056.0,1362.3C2055.3,1398.9 2059.4,1436.1 2054.0,1472.0C2048.4,1509.4 2041.0,1549.6 2023.0,1582.0C2004.4,1615.6 1971.1,1641.4 1944.0,1670.0C1930.6,1684.1 1917.0,1698.2 1901.6,1710.0C1851.6,1748.2 1799.3,1783.8 1747.7,1820.0C1711.4,1845.5 1675.4,1871.6 1637.8,1895.0C1619.6,1906.3 1599.5,1914.3 1580.4,1923.9" stroke="#000000"/><polygon points="1568.3,1930.0 1578.1,1919.5 1582.6,1928.4" fill="#000000" stroke="#000000"/>
<path d="M2057.5,1362.3C2058.3,1408.2 2059.0,1454.1 2060.0,1500.0C2061.5,1573.3 2063.4,1646.7 2065.0,1720.0C2065.3,1735.8 2065.5,1751.7 2065.8,1767.5" stroke="#000000"/><polygon points="2066.0,1781.0 2060.8,1767.6 2070.8,1767.4" fill="#000000" stroke="#000000"/>
<path d="M2076.0,1362.3C2090.7,1384.9 2107.4,1406.3 2120.0,1430.0C2135.4,1458.9 2149.2,1489.1 2160.0,1520.0C2171.5,1552.8 2177.9,1587.4 2186.8,1621.2" stroke="#000000"/><polygon points="2190.3,1634.2 2182.0,1622.4 2191.7,1619.9" fill="#000000" stroke="#000000"/>
<path d="M1904.2,1032.0C1884.5,1051.3 1867.2,1074.3 1845.0,1090.0C1825.8,1103.6 1802.2,1111.2 1780.0,1120.0C1759.3,1128.2 1737.6,1133.9 1716.4,1140.8" stroke="#6495ed"/><polygon points="1703.6,1145.0 1714.9,1136.0 1718.0,1145.6" fill="#6495ed" stroke="#6495ed"/><text x="1855.7" y="1088.6" fill="#6495ed" stroke="#6495ed" textLength="20.9" lengthAdjust="spacingAndGlyphs">test</text>
<path d="M1930.6,1032.0C1925.5,1054.2 1927.9,1082.8 1915.3,1098.6C1904.2,1112.5 1877.8,1112.6 1859.6,1120.9C1846.4,1126.9 1834.0,1134.7 1821.2,1141.6" stroke="#6495ed"/><polygon points="1809.3,1148.0 1818.8,1137.2 1823.6,1146.0" fill="#6495ed" stroke="#6495ed"/><text x="1927.6" y="1088.6" fill="#6495ed" stroke="#6495ed" textLength="20.9" lengthAdjust="spacingAndGlyphs">test</text>
<path d="M1944.6,1032.0C1946.4,1044.9 1952.3,1058.5 1950.0,1070.7C1947.2,1085.3 1940.8,1104.9 1929.2,1112.5C1915.3,1121.6 1891.5,1116.0 1873.5,1120.9C1857.2,1125.3 1836.5,1128.9 1826.2,1140.3C1815.7,1151.9 1818.8,1174.8 1811.0,1190.0C1800.1,1211.3 1784.9,1230.9 1770.0,1250.0C1734.5,1295.6 1698.1,1340.6 1660.0,1384.0C1588.8,1465.3 1514.7,1544.1 1442.1,1624.2" stroke="#6495ed"/><polygon points="1433.0,1634.2 1438.4,1620.8 1445.8,1627.6" fill="#6495ed" stroke="#6495ed"/><text x="1738.9" y="1340.4" fill="#6495ed" stroke="#6495ed" textLength="20.9" lengthAdjust="spacingAndGlyphs">test</text>
<path d="M1947.4,1032.0C1949.7,1044.9 1955.4,1058.0 1954.3,1070.7C1953.1,1084.9 1949.1,1101.7 1940.4,1112.5C1931.0,1124.2 1909.6,1126.4 1900.0,1138.0C1891.1,1148.9 1888.0,1165.5 1885.0,1180.0C1880.2,1203.5 1885.5,1229.8 1876.5,1252.0C1840.1,1341.8 1791.3,1427.9 1748.9,1516.0C1723.4,1568.9 1698.3,1622.0 1673.0,1675.0C1643.6,1736.6 1618.2,1800.8 1585.0,1860.0C1572.8,1881.7 1552.8,1898.4 1536.7,1917.6" stroke="#6495ed"/><polygon points="1528.0,1927.9 1532.9,1914.3 1540.5,1920.8" fill="#6495ed" stroke="#6495ed"/><text x="1778.5" y="1503.6" fill="#6495ed" stroke="#6495ed" textLength="20.9" lengthAdjust="spacingAndGlyphs">test</text>
<path d="M2023.9,1029.0C2049.3,1041.0 2075.1,1052.1 2100.0,1065.0C2133.5,1082.4 2170.8,1095.5 2199.0,1120.0C2259.4,1172.5 2325.8,1229.8 2366.0,1296.0C2388.1,1332.4 2382.4,1383.8 2386.0,1428.0C2388.4,1457.1 2389.5,1487.5 2384.0,1516.0C2375.9,1558.1 2360.6,1599.9 2345.0,1640.0C2340.0,1652.9 2330.5,1664.0 2322.0,1675.0C2314.2,1685.0 2306.2,1695.6 2296.0,1703.0C2273.9,1718.9 2249.7,1733.1 2225.0,1745.0C2198.9,1757.5 2170.7,1765.8 2143.6,1776.2" stroke="#6495ed"/><polygon points="2131.0,1781.0 2141.8,1771.5 2145.4,1780.8" fill="#6495ed" stroke="#6495ed"/><text x="2395.7" y="1424.9" fill="#6495ed" stroke="#6495ed" textLength="20.9" lengthAdjust="spacingAndGlyphs">test</text>
<path d="M2020.5,1199.6C1929.6,1266.9 1835.9,1330.8 1747.8,1401.5C1686.3,1450.9 1634.1,1512.2 1571.8,1560.0C1535.9,1587.5 1492.8,1605.0 1453.3,1627.5" stroke="#6495ed"/><polygon points="1441.6,1634.2 1450.9,1623.2 1455.8,1631.9" fill="#6495ed" stroke="#6495ed"/><text x="1738.9" y="1424.9" fill="#6495ed" stroke="#6495ed" textLength="20.9" lengthAdjust="spacingAndGlyphs">test</text>
<path d="M2038.0,1199.6C1985.2,1266.9 1926.8,1330.5 1879.7,1401.5C1837.4,1465.3 1803.1,1535.1 1769.7,1604.0C1756.5,1631.2 1748.5,1660.9 1740.0,1690.0C1726.5,1735.9 1720.2,1784.6 1703.7,1829.0C1696.4,1848.5 1684.6,1868.9 1668.6,1881.7C1643.4,1901.8 1609.7,1912.4 1580.3,1927.8" stroke="#6495ed"/><polygon points="1568.3,1934.0 1578.0,1923.3 1582.6,1932.2" fill="#6495ed" stroke="#6495ed"/><text x="1818.0" y="1582.3" fill="#6495ed" stroke="#6495ed" textLength="20.9" lengthAdjust="spacingAndGlyphs">test</text>
<path d="M2059.2,1199.6L2056.6,1300.9" stroke="#6495ed"/><polygon points="2056.2,1314.4 2051.6,1300.8 2061.6,1301.0" fill="#6495ed" stroke="#6495ed"/><text x="2069.7" y="1256.4" fill="#6495ed" stroke="#6495ed" textLength="20.9" lengthAdjust="spacingAndGlyphs">test</text>
<path d="M2153.8,1186.0C2194.2,1200.7 2238.6,1208.7 2275.0,1230.0C2306.5,1248.4 2345.9,1272.7 2357.5,1305.0C2374.9,1353.4 2365.2,1416.7 2361.9,1472.0C2359.3,1516.3 2352.7,1561.9 2339.9,1604.0C2332.1,1629.6 2314.1,1651.8 2300.0,1675.0C2293.4,1685.8 2287.7,1698.3 2278.0,1706.0C2259.4,1720.7 2236.5,1731.1 2215.0,1742.0C2191.0,1754.2 2165.9,1764.3 2141.3,1775.4" stroke="#6495ed"/><polygon points="2129.0,1781.0 2139.2,1770.9 2143.4,1780.0" fill="#6495ed" stroke="#6495ed"/><text x="2371.5" y="1503.6" fill="#6495ed" stroke="#6495ed" textLength="20.9" lengthAdjust="spacingAndGlyphs">test</text>
<path d="M2196.9,1367.6C2163.9,1380.4 2129.6,1390.4 2098.0,1406.0C2060.9,1424.4 2026.5,1448.4 1990.8,1469.6" stroke="#6495ed"/><polygon points="1979.2,1476.5 1988.3,1465.3 1993.4,1473.9" fill="#6495ed" stroke="#6495ed"/><text x="2098.8" y="1424.9" fill="#6495ed" stroke="#6495ed" textLength="20.9" lengthAdjust="spacingAndGlyphs">test</text>
<path d="M2230.0,1367.6C2200.2,1390.6 2169.4,1412.4 2140.7,1436.7C2118.1,1455.9 2100.0,1480.9 2076.0,1498.0C2042.4,1522.0 2006.5,1545.9 1967.7,1560.0C1897.1,1585.6 1822.0,1602.7 1747.7,1617.0C1665.5,1632.8 1581.6,1639.3 1498.5,1650.4" stroke="#6495ed"/><polygon points="1485.1,1652.2 1497.8,1645.5 1499.1,1655.4" fill="#6495ed" stroke="#6495ed"/><text x="2109.8" y="1503.6" fill="#6495ed" stroke="#6495ed" textLength="20.9" lengthAdjust="spacingAndGlyphs">test</text>
<path d="M2252.0,1367.6C2201.3,1431.7 2152.0,1497.0 2100.0,1560.0C2067.5,1599.4 2033.8,1638.2 1998.4,1675.0C1960.4,1714.5 1923.2,1756.2 1879.7,1789.0C1839.6,1819.2 1793.3,1842.3 1747.7,1864.0C1693.7,1889.7 1636.5,1908.6 1580.8,1931.0" stroke="#6495ed"/><polygon points="1568.3,1936.0 1579.0,1926.3 1582.7,1935.6" fill="#6495ed" stroke="#6495ed"/><text x="2043.3" y="1660.6" fill="#6495ed" stroke="#6495ed" textLength="20.9" lengthAdjust="spacingAndGlyphs">test</text>
<path d="M2265.0,1367.6L2208.6,1621.0" stroke="#6495ed"/><polygon points="2205.7,1634.2 2203.8,1619.9 2213.5,1622.1" fill="#6495ed" stroke="#6495ed"/><text x="2251.8" y="1503.6" fill="#6495ed" stroke="#6495ed" textLength="20.9" lengthAdjust="spacingAndGlyphs">test</text>
<path d="M2281.7,1367.6C2287.8,1395.1 2296.1,1422.2 2300.0,1450.0C2305.2,1486.3 2309.8,1523.5 2309.0,1560.0C2308.4,1586.8 2303.0,1614.2 2296.0,1640.0C2292.6,1652.5 2284.8,1663.8 2278.0,1675.0C2272.1,1684.8 2266.5,1695.5 2258.0,1703.0C2243.1,1716.2 2225.3,1726.6 2208.0,1737.0C2185.5,1750.5 2161.9,1762.0 2138.9,1774.6" stroke="#6495ed"/><polygon points="2127.0,1781.0 2136.5,1770.2 2141.2,1778.9" fill="#6495ed" stroke="#6495ed"/><text x="2320.0" y="1582.3" fill="#6495ed" stroke="#6495ed" textLength="20.9" lengthAdjust="spacingAndGlyphs">test</text>
<path d="M1836.7,390.3C1691.1,411.0 1545.3,430.2 1400.0,452.5C1166.4,488.4 932.9,525.4 700.0,565.0C627.5,577.3 553.2,585.9 483.8,608.4C422.5,628.3 360.3,655.3 307.9,692.0C257.7,727.2 212.8,774.9 176.0,824.0C146.9,862.9 128.9,910.7 110.0,956.0C92.2,998.7 78.5,1043.4 66.0,1088.0C59.4,1111.4 55.2,1135.8 52.8,1160.0C48.3,1206.4 45.8,1253.3 45.3,1300.0C43.3,1499.9 44.5,1700.0 45.3,1900.0C45.4,1933.3 46.3,1966.7 48.0,2000.0C49.1,2020.4 51.8,2040.6 53.7,2061.0" stroke="#6495ed"/><polygon points="55.0,2074.4 48.8,2061.4 58.7,2060.5" fill="#6495ed" stroke="#6495ed"/><text x="58.5" y="1256.4" fill="#6495ed" stroke="#6495ed" textLength="20.9" lengthAdjust="spacingAndGlyphs">test</text>
<rect x="1888.0" y="42.5" width="216.2" height="90.8" fill="#dedede" stroke="#000000"/><text class="r" x="1996.1" y="64.3" fill="#000000" stroke="#000000" textLength="67.2" lengthAdjust="spacingAndGlyphs">org.lsst</text><text class="r" x="1996.1" y="84.2" fill="#000000" stroke="#000000" textLength="194.1" lengthAdjust="spacingAndGlyphs">org-lsst-ccs-ui-parent</text><text class="r" x="1996.1" y="104.1" fill="#000000" stroke="#000000" textLength="40.6" lengthAdjust="spacingAndGlyphs">pom</text><text class="r" x="1996.1" y="124.0" fill="#000000" stroke="#000000" textLength="46.6" lengthAdjust="spacingAndGlyphs">4.2.4</text>
<rect x="1567.5" y="247.6" width="203.7" height="48.4" fill="#ffffff" stroke="#000000"/><text x="1669.3" y="263.1" fill="#000000" stroke="#000000" textLength="41.5" lengthAdjust="spacingAndGlyphs">org.lsst</text><text x="1669.3" y="275.1" fill="#000000" stroke="#000000" textLength="176.8" lengthAdjust="spacingAndGlyphs">org-lsst-ccs-subsystem-console</text><text x="1669.3" y="287.1" fill="#000000" stroke="#000000" textLength="28.8" lengthAdjust="spacingAndGlyphs">6.1.5</text>
<rect x="2393.1" y="247.6" width="141.6" height="48.4" fill="#ffffff" stroke="#6495ed"/><text x="2463.9" y="263.1" fill="#6495ed" stroke="#6495ed" textLength="119.6" lengthAdjust="spacingAndGlyphs">org.apache.activemq</text><text x="2463.9" y="275.1" fill="#6495ed" stroke="#6495ed" textLength="81.1" lengthAdjust="spacingAndGlyphs">activemq-core</text><text x="2463.9" y="287.1" fill="#6495ed" stroke="#6495ed" textLength="28.8" lengthAdjust="spacingAndGlyphs">5.7.0</text>
<rect x="2539.5" y="242.3" width="150.0" height="59.4" fill="#ffffff" stroke="#6495ed"/><text x="2614.5" y="257.3" fill="#6495ed" stroke="#6495ed" textLength="41.5" lengthAdjust="spacingAndGlyphs">org.lsst</text><text x="2614.5" y="269.3" fill="#6495ed" stroke="#6495ed" textLength="123.5" lengthAdjust="spacingAndGlyphs">org-lsst-ccs-commons</text><text x="2614.5" y="281.3" fill="#6495ed" stroke="#6495ed" textLength="71.7" lengthAdjust="spacingAndGlyphs">test-jar:tests</text><text x="2614.5" y="293.3" fill="#6495ed" stroke="#6495ed" textLength="28.8" lengthAdjust="spacingAndGlyphs">6.1.5</text>
<rect x="2694.8" y="247.6" width="71.7" height="48.4" fill="#ffffff" stroke="#6495ed"/><text x="2730.7" y="263.1" fill="#6495ed" stroke="#6495ed" textLength="25.0" lengthAdjust="spacingAndGlyphs">junit</text><text x="2730.7" y="275.1" fill="#6495ed" stroke="#6495ed" textLength="25.0" lengthAdjust="spacingAndGlyphs">junit</text><text x="2730.7" y="287.1" fill="#6495ed" stroke="#6495ed" textLength="25.2" lengthAdjust="spacingAndGlyphs">4.13</text>
<rect x="3667.5" y="247.6" width="133.7" height="48.4" fill="#ffffff" stroke="#6495ed"/><text x="3734.3" y="263.1" fill="#6495ed" stroke="#6495ed" textLength="93.2" lengthAdjust="spacingAndGlyphs">org.junit.vintage</text><text x="3734.3" y="275.1" fill="#6495ed" stroke="#6495ed" textLength="113.9" lengthAdjust="spacingAndGlyphs">junit-vintage-engine</text><text x="3734.3" y="287.1" fill="#6495ed" stroke="#6495ed" textLength="28.8" lengthAdjust="spacingAndGlyphs">5.6.2</text>
<rect x="3806.5" y="247.6" width="133.7" height="48.4" fill="#ffffff" stroke="#6495ed"/><text x="3873.3" y="263.1" fill="#6495ed" stroke="#6495ed" textLength="87.4" lengthAdjust="spacingAndGlyphs">org.junit.jupiter</text><text x="3873.3" y="275.1" fill="#6495ed" stroke="#6495ed" textLength="111.7" lengthAdjust="spacingAndGlyphs">junit-jupiter-params</text><text x="3873.3" y="287.1" fill="#6495ed" stroke="#6495ed" textLength="28.8" lengthAdjust="spacingAndGlyphs">5.6.2</text>
<rect x="3946.4" y="247.6" width="126.2" height="48.4" fill="#ffffff" stroke="#6495ed"/><text x="4009.5" y="263.1" fill="#6495ed" stroke="#6495ed" textLength="87.4" lengthAdjust="spacingAndGlyphs">org.junit.jupiter</text><text x="4009.5" y="275.1" fill="#6495ed" stroke="#6495ed" textLength="107.6" lengthAdjust="spacingAndGlyphs">junit-jupiter-engine</text><text x="4009.5" y="287.1" fill="#6495ed" stroke="#6495ed" textLength="28.8" lengthAdjust="spacingAndGlyphs">5.6.2</text>
<rect x="1836.7" y="349.2" width="147.8" height="59.0" fill="#ffffff" stroke="#6495ed"/><text x="1910.6" y="364.0" fill="#6495ed" stroke="#6495ed" textLength="41.5" lengthAdjust="spacingAndGlyphs">org.lsst</text><text x="1910.6" y="376.0" fill="#6495ed" stroke="#6495ed" textLength="122.9" lengthAdjust="spacingAndGlyphs">org-lsst-ccs-bootstrap</text><text x="1910.6" y="388.0" fill="#6495ed" stroke="#6495ed" textLength="71.7" lengthAdjust="spacingAndGlyphs">test-jar:tests</text><text x="1910.6" y="400.0" fill="#6495ed" stroke="#6495ed" textLength="28.8" lengthAdjust="spacingAndGlyphs">3.0.1</text>
<rect x="932.9" y="455.7" width="80.9" height="48.3" fill="#ffffff" stroke="#000000"/><text x="973.3" y="471.2" fill="#000000" stroke="#000000" textLength="59.0" lengthAdjust="spacingAndGlyphs">net.sf.py4j</text><text x="973.3" y="483.2" fill="#000000" stroke="#000000" textLength="24.2" lengthAdjust="spacingAndGlyphs">py4j</text><text x="973.3" y="495.2" fill="#000000" stroke="#000000" textLength="35.9" lengthAdjust="spacingAndGlyphs">0.10.4</text>
<rect x="1503.3" y="455.7" width="118.3" height="48.3" fill="#ffffff" stroke="#000000"/><text x="1562.4" y="471.2" fill="#000000" stroke="#000000" textLength="41.5" lengthAdjust="spacingAndGlyphs">org.lsst</text><text x="1562.4" y="483.2" fill="#000000" stroke="#000000" textLength="92.9" lengthAdjust="spacingAndGlyphs">org-lsst-ccs-core</text><text x="1562.4" y="495.2" fill="#000000" stroke="#000000" textLength="28.8" lengthAdjust="spacingAndGlyphs">6.1.5</text>
<rect x="1627.4" y="455.7" width="99.8" height="48.3" fill="#ffffff" stroke="#000000"/><text x="1677.3" y="471.2" fill="#000000" stroke="#000000" textLength="77.7" lengthAdjust="spacingAndGlyphs">commons-net</text><text x="1677.3" y="483.2" fill="#000000" stroke="#000000" textLength="77.7" lengthAdjust="spacingAndGlyphs">commons-net</text><text x="1677.3" y="495.2" fill="#000000" stroke="#000000" textLength="18.0" lengthAdjust="spacingAndGlyphs">3.3</text>
<rect x="2392.6" y="455.7" width="142.5" height="48.3" fill="#ffffff" stroke="#6495ed"/><text x="2463.8" y="471.2" fill="#6495ed" stroke="#6495ed" textLength="118.2" lengthAdjust="spacingAndGlyphs">org.springframework</text><text x="2463.8" y="483.2" fill="#6495ed" stroke="#6495ed" textLength="81.8" lengthAdjust="spacingAndGlyphs">spring-context</text><text x="2463.8" y="495.2" fill="#6495ed" stroke="#6495ed" textLength="82.8" lengthAdjust="spacingAndGlyphs">3.0.7.RELEASE</text>
<rect x="2540.9" y="455.7" width="99.4" height="48.3" fill="#ffffff" stroke="#6495ed"/><text x="2590.6" y="471.2" fill="#6495ed" stroke="#6495ed" textLength="77.7" lengthAdjust="spacingAndGlyphs">commons-net</text><text x="2590.6" y="483.2" fill="#6495ed" stroke="#6495ed" textLength="77.7" lengthAdjust="spacingAndGlyphs">commons-net</text><text x="2590.6" y="495.2" fill="#6495ed" stroke="#6495ed" textLength="18.0" lengthAdjust="spacingAndGlyphs">3.1</text>
<rect x="2646.0" y="455.7" width="78.3" height="48.3" fill="#ffffff" stroke="#6495ed"/><text x="2685.2" y="471.2" fill="#6495ed" stroke="#6495ed" textLength="56.4" lengthAdjust="spacingAndGlyphs">org.jasypt</text><text x="2685.2" y="483.2" fill="#6495ed" stroke="#6495ed" textLength="34.2" lengthAdjust="spacingAndGlyphs">jasypt</text><text x="2685.2" y="495.2" fill="#6495ed" stroke="#6495ed" textLength="28.8" lengthAdjust="spacingAndGlyphs">1.9.0</text>
<rect x="2743.6" y="455.7" width="141.7" height="48.3" fill="#ffffff" stroke="#6495ed"/><text x="2814.4" y="471.2" fill="#6495ed" stroke="#6495ed" textLength="119.6" lengthAdjust="spacingAndGlyphs">org.apache.activemq</text><text x="2814.4" y="483.2" fill="#6495ed" stroke="#6495ed" textLength="41.7" lengthAdjust="spacingAndGlyphs">kahadb</text><text x="2814.4" y="495.2" fill="#6495ed" stroke="#6495ed" textLength="28.8" lengthAdjust="spacingAndGlyphs">5.7.0</text>
<rect x="2891.4" y="455.7" width="182.1" height="48.3" fill="#ffffff" stroke="#6495ed"/><text x="2982.4" y="471.2" fill="#6495ed" stroke="#6495ed" textLength="156.2" lengthAdjust="spacingAndGlyphs">org.apache.geronimo.specs</text><text x="2982.4" y="483.2" fill="#6495ed" stroke="#6495ed" textLength="133.5" lengthAdjust="spacingAndGlyphs">geronimo-jms_1.1_spec</text><text x="2982.4" y="495.2" fill="#6495ed" stroke="#6495ed" textLength="28.8" lengthAdjust="spacingAndGlyphs">1.1.1</text>
<rect x="3079.2" y="455.7" width="193.1" height="48.3" fill="#ffffff" stroke="#6495ed"/><text x="3175.8" y="471.2" fill="#6495ed" stroke="#6495ed" textLength="171.3" lengthAdjust="spacingAndGlyphs">org.apache.activemq.protobuf</text><text x="3175.8" y="483.2" fill="#6495ed" stroke="#6495ed" textLength="104.7" lengthAdjust="spacingAndGlyphs">activemq-protobuf</text><text x="3175.8" y="495.2" fill="#6495ed" stroke="#6495ed" textLength="18.0" lengthAdjust="spacingAndGlyphs">1.1</text>
<rect x="3278.2" y="455.7" width="173.8" height="48.3" fill="#ffffff" stroke="#6495ed"/><text x="3365.1" y="471.2" fill="#6495ed" stroke="#6495ed" textLength="149.4" lengthAdjust="spacingAndGlyphs">org.fusesource.mqtt-client</text><text x="3365.1" y="483.2" fill="#6495ed" stroke="#6495ed" textLength="62.2" lengthAdjust="spacingAndGlyphs">mqtt-client</text><text x="3365.1" y="495.2" fill="#6495ed" stroke="#6495ed" textLength="18.0" lengthAdjust="spacingAndGlyphs">1.3</text>
<rect x="3457.3" y="455.7" width="240.1" height="48.3" fill="#ffffff" stroke="#6495ed"/><text x="3577.4" y="471.2" fill="#6495ed" stroke="#6495ed" textLength="156.2" lengthAdjust="spacingAndGlyphs">org.apache.geronimo.specs</text><text x="3577.4" y="483.2" fill="#6495ed" stroke="#6495ed" textLength="217.5" lengthAdjust="spacingAndGlyphs">geronimo-j2ee-management_1.1_spec</text><text x="3577.4" y="495.2" fill="#6495ed" stroke="#6495ed" textLength="28.8" lengthAdjust="spacingAndGlyphs">1.0.1</text>
<rect x="3703.1" y="455.7" width="105.1" height="48.3" fill="#ffffff" stroke="#6495ed"/><text x="3755.6" y="471.2" fill="#6495ed" stroke="#6495ed" textLength="75.1" lengthAdjust="spacingAndGlyphs">org.hamcrest</text><text x="3755.6" y="483.2" fill="#6495ed" stroke="#6495ed" textLength="81.5" lengthAdjust="spacingAndGlyphs">hamcrest-core</text><text x="3755.6" y="495.2" fill="#6495ed" stroke="#6495ed" textLength="18.0" lengthAdjust="spacingAndGlyphs">1.3</text>
<rect x="3814.4" y="455.7" width="72.1" height="48.3" fill="#ffffff" stroke="#6495ed"/><text x="3850.4" y="471.2" fill="#6495ed" stroke="#6495ed" textLength="25.0" lengthAdjust="spacingAndGlyphs">junit</text><text x="3850.4" y="483.2" fill="#6495ed" stroke="#6495ed" textLength="25.0" lengthAdjust="spacingAndGlyphs">junit</text><text x="3850.4" y="495.2" fill="#6495ed" stroke="#6495ed" textLength="35.9" lengthAdjust="spacingAndGlyphs">4.13.1</text>
<rect x="3932.7" y="455.7" width="139.9" height="48.3" fill="#ffffff" stroke="#6495ed"/><text x="4002.6" y="471.2" fill="#6495ed" stroke="#6495ed" textLength="98.8" lengthAdjust="spacingAndGlyphs">org.junit.platform</text><text x="4002.6" y="483.2" fill="#6495ed" stroke="#6495ed" textLength="119.7" lengthAdjust="spacingAndGlyphs">junit-platform-engine</text><text x="4002.6" y="495.2" fill="#6495ed" stroke="#6495ed" textLength="28.8" lengthAdjust="spacingAndGlyphs">1.6.2</text>
<rect x="4078.3" y="455.7" width="109.5" height="48.3" fill="#ffffff" stroke="#6495ed"/><text x="4133.1" y="471.2" fill="#6495ed" stroke="#6495ed" textLength="87.4" lengthAdjust="spacingAndGlyphs">org.junit.jupiter</text><text x="4133.1" y="483.2" fill="#6495ed" stroke="#6495ed" textLength="86.3" lengthAdjust="spacingAndGlyphs">junit-jupiter-api</text><text x="4133.1" y="495.2" fill="#6495ed" stroke="#6495ed" textLength="28.8" lengthAdjust="spacingAndGlyphs">5.6.2</text>
<rect x="724.0" y="613.2" width="93.2" height="48.4" fill="#ffffff" stroke="#000000"/><text x="770.6" y="628.7" fill="#000000" stroke="#000000" textLength="67.7" lengthAdjust="spacingAndGlyphs">org.influxdb</text><text x="770.6" y="640.7" fill="#000000" stroke="#000000" textLength="73.4" lengthAdjust="spacingAndGlyphs">influxdb-java</text><text x="770.6" y="652.7" fill="#000000" stroke="#000000" textLength="25.2" lengthAdjust="spacingAndGlyphs">2.14</text>
<rect x="1059.8" y="613.2" width="122.7" height="48.4" fill="#ffffff" stroke="#000000"/><text x="1121.2" y="628.7" fill="#000000" stroke="#000000" textLength="61.7" lengthAdjust="spacingAndGlyphs">org.python</text><text x="1121.2" y="640.7" fill="#000000" stroke="#000000" textLength="102.2" lengthAdjust="spacingAndGlyphs">jython-standalone</text><text x="1121.2" y="652.7" fill="#000000" stroke="#000000" textLength="28.8" lengthAdjust="spacingAndGlyphs">2.7.2</text>
<rect x="1463.6" y="613.2" width="197.9" height="48.4" fill="#ffffff" stroke="#000000"/><text x="1562.5" y="628.7" fill="#000000" stroke="#000000" textLength="41.5" lengthAdjust="spacingAndGlyphs">org.lsst</text><text x="1562.5" y="640.7" fill="#000000" stroke="#000000" textLength="173.9" lengthAdjust="spacingAndGlyphs">org-lsst-ccs-groovy-description</text><text x="1562.5" y="652.7" fill="#000000" stroke="#000000" textLength="28.8" lengthAdjust="spacingAndGlyphs">6.1.5</text>
<rect x="2416.7" y="613.2" width="142.5" height="48.4" fill="#ffffff" stroke="#6495ed"/><text x="2487.9" y="628.7" fill="#6495ed" stroke="#6495ed" textLength="118.2" lengthAdjust="spacingAndGlyphs">org.springframework</text><text x="2487.9" y="640.7" fill="#6495ed" stroke="#6495ed" textLength="60.3" lengthAdjust="spacingAndGlyphs">spring-aop</text><text x="2487.9" y="652.7" fill="#6495ed" stroke="#6495ed" textLength="82.8" lengthAdjust="spacingAndGlyphs">3.0.7.RELEASE</text>
<rect x="3107.7" y="613.2" width="157.8" height="48.4" fill="#ffffff" stroke="#6495ed"/><text x="3186.6" y="628.7" fill="#6495ed" stroke="#6495ed" textLength="133.3" lengthAdjust="spacingAndGlyphs">org.fusesource.hawtbuf</text><text x="3186.6" y="640.7" fill="#6495ed" stroke="#6495ed" textLength="46.1" lengthAdjust="spacingAndGlyphs">hawtbuf</text><text x="3186.6" y="652.7" fill="#6495ed" stroke="#6495ed" textLength="18.0" lengthAdjust="spacingAndGlyphs">1.9</text>
<rect x="3271.7" y="613.2" width="187.3" height="48.4" fill="#ffffff" stroke="#6495ed"/><text x="3365.3" y="628.7" fill="#6495ed" stroke="#6495ed" textLength="163.1" lengthAdjust="spacingAndGlyphs">org.fusesource.hawtdispatch</text><text x="3365.3" y="640.7" fill="#6495ed" stroke="#6495ed" textLength="132.1" lengthAdjust="spacingAndGlyphs">hawtdispatch-transport</text><text x="3365.3" y="652.7" fill="#6495ed" stroke="#6495ed" textLength="25.2" lengthAdjust="spacingAndGlyphs">1.11</text>
<rect x="3987.3" y="613.2" width="105.1" height="48.4" fill="#ffffff" stroke="#6495ed"/><text x="4039.9" y="628.7" fill="#6495ed" stroke="#6495ed" textLength="82.4" lengthAdjust="spacingAndGlyphs">org.opentest4j</text><text x="4039.9" y="640.7" fill="#6495ed" stroke="#6495ed" textLength="60.2" lengthAdjust="spacingAndGlyphs">opentest4j</text><text x="4039.9" y="652.7" fill="#6495ed" stroke="#6495ed" textLength="28.8" lengthAdjust="spacingAndGlyphs">1.2.0</text>
<rect x="4132.8" y="613.2" width="158.4" height="48.4" fill="#ffffff" stroke="#6495ed"/><text x="4212.0" y="628.7" fill="#6495ed" stroke="#6495ed" textLength="98.8" lengthAdjust="spacingAndGlyphs">org.junit.platform</text><text x="4212.0" y="640.7" fill="#6495ed" stroke="#6495ed" textLength="136.3" lengthAdjust="spacingAndGlyphs">junit-platform-commons</text><text x="4212.0" y="652.7" fill="#6495ed" stroke="#6495ed" textLength="28.8" lengthAdjust="spacingAndGlyphs">1.6.2</text>
<rect x="2614.2" y="709.1" width="142.5" height="48.4" fill="#ffffff" stroke="#6495ed"/><text x="2685.4" y="724.6" fill="#6495ed" stroke="#6495ed" textLength="118.2" lengthAdjust="spacingAndGlyphs">org.springframework</text><text x="2685.4" y="736.6" fill="#6495ed" stroke="#6495ed" textLength="100.2" lengthAdjust="spacingAndGlyphs">spring-expression</text><text x="2685.4" y="748.6" fill="#6495ed" stroke="#6495ed" textLength="82.8" lengthAdjust="spacingAndGlyphs">3.0.7.RELEASE</text>
<rect x="435.4" y="810.7" width="155.3" height="47.9" fill="#ffffff" stroke="#000000"/><text x="513.0" y="826.0" fill="#000000" stroke="#000000" textLength="130.0" lengthAdjust="spacingAndGlyphs">com.squareup.retrofit2</text><text x="513.0" y="838.0" fill="#000000" stroke="#000000" textLength="92.1" lengthAdjust="spacingAndGlyphs">converter-moshi</text><text x="513.0" y="850.0" fill="#000000" stroke="#000000" textLength="28.8" lengthAdjust="spacingAndGlyphs">2.4.0</text>
<rect x="610.0" y="810.7" width="150.5" height="47.9" fill="#ffffff" stroke="#000000"/><text x="685.2" y="826.0" fill="#000000" stroke="#000000" textLength="128.0" lengthAdjust="spacingAndGlyphs">com.squareup.okhttp3</text><text x="685.2" y="838.0" fill="#000000" stroke="#000000" textLength="108.4" lengthAdjust="spacingAndGlyphs">logging-interceptor</text><text x="685.2" y="850.0" fill="#000000" stroke="#000000" textLength="35.9" lengthAdjust="spacingAndGlyphs">3.11.0</text>
<rect x="780.7" y="810.7" width="102.0" height="47.9" fill="#ffffff" stroke="#000000"/><text x="831.7" y="826.0" fill="#000000" stroke="#000000" textLength="73.0" lengthAdjust="spacingAndGlyphs">org.msgpack</text><text x="831.7" y="838.0" fill="#000000" stroke="#000000" textLength="79.5" lengthAdjust="spacingAndGlyphs">msgpack-core</text><text x="831.7" y="850.0" fill="#000000" stroke="#000000" textLength="35.9" lengthAdjust="spacingAndGlyphs">0.8.16</text>
<rect x="1092.8" y="805.0" width="182.5" height="58.5" fill="#ffffff" stroke="#000000"/><text x="1184.0" y="819.5" fill="#000000" stroke="#000000" textLength="41.5" lengthAdjust="spacingAndGlyphs">org.lsst</text><text x="1184.0" y="831.5" fill="#000000" stroke="#000000" textLength="160.3" lengthAdjust="spacingAndGlyphs">org-lsst-ccs-config-definition</text><text x="1184.0" y="843.5" fill="#000000" stroke="#000000" textLength="71.7" lengthAdjust="spacingAndGlyphs">test-jar:tests</text><text x="1184.0" y="855.5" fill="#000000" stroke="#000000" textLength="28.8" lengthAdjust="spacingAndGlyphs">6.1.5</text>
<rect x="1295.6" y="810.7" width="182.1" height="47.9" fill="#ffffff" stroke="#000000"/><text x="1386.7" y="826.0" fill="#000000" stroke="#000000" textLength="41.5" lengthAdjust="spacingAndGlyphs">org.lsst</text><text x="1386.7" y="838.0" fill="#000000" stroke="#000000" textLength="160.3" lengthAdjust="spacingAndGlyphs">org-lsst-ccs-config-definition</text><text x="1386.7" y="850.0" fill="#000000" stroke="#000000" textLength="28.8" lengthAdjust="spacingAndGlyphs">6.1.5</text>
<rect x="1483.4" y="810.7" width="142.0" height="47.9" fill="#ffffff" stroke="#000000"/><text x="1554.4" y="826.0" fill="#000000" stroke="#000000" textLength="118.9" lengthAdjust="spacingAndGlyphs">org.codehaus.groovy</text><text x="1554.4" y="838.0" fill="#000000" stroke="#000000" textLength="55.9" lengthAdjust="spacingAndGlyphs">groovy-all</text><text x="1554.4" y="850.0" fill="#000000" stroke="#000000" textLength="35.9" lengthAdjust="spacingAndGlyphs">2.4.12</text>
<rect x="2425.9" y="810.7" width="86.7" height="47.9" fill="#ffffff" stroke="#6495ed"/><text x="2469.2" y="826.0" fill="#6495ed" stroke="#6495ed" textLength="64.6" lengthAdjust="spacingAndGlyphs">aopalliance</text><text x="2469.2" y="838.0" fill="#6495ed" stroke="#6495ed" textLength="64.6" lengthAdjust="spacingAndGlyphs">aopalliance</text><text x="2469.2" y="850.0" fill="#6495ed" stroke="#6495ed" textLength="18.0" lengthAdjust="spacingAndGlyphs">1.0</text>
<rect x="2579.4" y="810.7" width="142.5" height="47.9" fill="#ffffff" stroke="#6495ed"/><text x="2650.7" y="826.0" fill="#6495ed" stroke="#6495ed" textLength="118.2" lengthAdjust="spacingAndGlyphs">org.springframework</text><text x="2650.7" y="838.0" fill="#6495ed" stroke="#6495ed" textLength="73.4" lengthAdjust="spacingAndGlyphs">spring-beans</text><text x="2650.7" y="850.0" fill="#6495ed" stroke="#6495ed" textLength="82.8" lengthAdjust="spacingAndGlyphs">3.0.7.RELEASE</text>
<rect x="3271.7" y="810.7" width="187.3" height="47.9" fill="#ffffff" stroke="#6495ed"/><text x="3365.3" y="826.0" fill="#6495ed" stroke="#6495ed" textLength="163.1" lengthAdjust="spacingAndGlyphs">org.fusesource.hawtdispatch</text><text x="3365.3" y="838.0" fill="#6495ed" stroke="#6495ed" textLength="75.9" lengthAdjust="spacingAndGlyphs">hawtdispatch</text><text x="3365.3" y="850.0" fill="#6495ed" stroke="#6495ed" textLength="25.2" lengthAdjust="spacingAndGlyphs">1.11</text>
<rect x="3894.4" y="810.7" width="112.2" height="47.9" fill="#ffffff" stroke="#6495ed"/><text x="3950.5" y="826.0" fill="#6495ed" stroke="#6495ed" textLength="89.5" lengthAdjust="spacingAndGlyphs">org.apiguardian</text><text x="3950.5" y="838.0" fill="#6495ed" stroke="#6495ed" textLength="88.7" lengthAdjust="spacingAndGlyphs">apiguardian-api</text><text x="3950.5" y="850.0" fill="#6495ed" stroke="#6495ed" textLength="28.8" lengthAdjust="spacingAndGlyphs">1.1.0</text>
<rect x="296.9" y="978.3" width="142.0" height="47.9" fill="#ffffff" stroke="#000000"/><text x="367.9" y="993.5" fill="#000000" stroke="#000000" textLength="118.3" lengthAdjust="spacingAndGlyphs">com.squareup.moshi</text><text x="367.9" y="1005.5" fill="#000000" stroke="#000000" textLength="34.1" lengthAdjust="spacingAndGlyphs">moshi</text><text x="367.9" y="1017.5" fill="#000000" stroke="#000000" textLength="28.8" lengthAdjust="spacingAndGlyphs">1.5.0</text>
<rect x="445.1" y="978.3" width="154.9" height="47.9" fill="#ffffff" stroke="#000000"/><text x="522.5" y="993.5" fill="#000000" stroke="#000000" textLength="130.0" lengthAdjust="spacingAndGlyphs">com.squareup.retrofit2</text><text x="522.5" y="1005.5" fill="#000000" stroke="#000000" textLength="38.6" lengthAdjust="spacingAndGlyphs">retrofit</text><text x="522.5" y="1017.5" fill="#000000" stroke="#000000" textLength="28.8" lengthAdjust="spacingAndGlyphs">2.4.0</text>
<rect x="610.0" y="978.3" width="150.5" height="47.9" fill="#ffffff" stroke="#000000"/><text x="685.2" y="993.5" fill="#000000" stroke="#000000" textLength="128.0" lengthAdjust="spacingAndGlyphs">com.squareup.okhttp3</text><text x="685.2" y="1005.5" fill="#000000" stroke="#000000" textLength="36.7" lengthAdjust="spacingAndGlyphs">okhttp</text><text x="685.2" y="1017.5" fill="#000000" stroke="#000000" textLength="35.9" lengthAdjust="spacingAndGlyphs">3.11.0</text>
<rect x="766.6" y="978.3" width="210.7" height="47.9" fill="#ffffff" stroke="#000000"/><text x="872.0" y="993.5" fill="#000000" stroke="#000000" textLength="41.5" lengthAdjust="spacingAndGlyphs">org.lsst</text><text x="872.0" y="1005.5" fill="#000000" stroke="#000000" textLength="185.6" lengthAdjust="spacingAndGlyphs">org-lsst-ccs-rest-file-server-client</text><text x="872.0" y="1017.5" fill="#000000" stroke="#000000" textLength="28.8" lengthAdjust="spacingAndGlyphs">1.1.2</text>
<rect x="1049.3" y="978.3" width="202.7" height="47.9" fill="#ffffff" stroke="#000000"/><text x="1150.7" y="993.5" fill="#000000" stroke="#000000" textLength="41.5" lengthAdjust="spacingAndGlyphs">org.lsst</text><text x="1150.7" y="1005.5" fill="#000000" stroke="#000000" textLength="175.6" lengthAdjust="spacingAndGlyphs">org-lsst-ccs-messaging-jgroups</text><text x="1150.7" y="1017.5" fill="#000000" stroke="#000000" textLength="28.8" lengthAdjust="spacingAndGlyphs">6.1.5</text>
<rect x="1406.0" y="978.3" width="190.4" height="47.9" fill="#ffffff" stroke="#000000"/><text x="1501.2" y="993.5" fill="#000000" stroke="#000000" textLength="41.5" lengthAdjust="spacingAndGlyphs">org.lsst</text><text x="1501.2" y="1005.5" fill="#000000" stroke="#000000" textLength="164.5" lengthAdjust="spacingAndGlyphs">org-lsst-ccs-messaging-mock</text><text x="1501.2" y="1017.5" fill="#000000" stroke="#000000" textLength="28.8" lengthAdjust="spacingAndGlyphs">6.1.5</text>
<rect x="1602.6" y="978.3" width="181.6" height="47.9" fill="#ffffff" stroke="#000000"/><text x="1693.4" y="993.5" fill="#000000" stroke="#000000" textLength="41.5" lengthAdjust="spacingAndGlyphs">org.lsst</text><text x="1693.4" y="1005.5" fill="#000000" stroke="#000000" textLength="153.8" lengthAdjust="spacingAndGlyphs">org-lsst-ccs-messaging-jms</text><text x="1693.4" y="1017.5" fill="#000000" stroke="#000000" textLength="28.8" lengthAdjust="spacingAndGlyphs">6.1.5</text>
<rect x="1842.3" y="973.4" width="181.6" height="58.6" fill="#ffffff" stroke="#6495ed"/><text x="1933.1" y="988.0" fill="#6495ed" stroke="#6495ed" textLength="41.5" lengthAdjust="spacingAndGlyphs">org.lsst</text><text x="1933.1" y="1000.0" fill="#6495ed" stroke="#6495ed" textLength="153.8" lengthAdjust="spacingAndGlyphs">org-lsst-ccs-messaging-jms</text><text x="1933.1" y="1012.0" fill="#6495ed" stroke="#6495ed" textLength="71.7" lengthAdjust="spacingAndGlyphs">test-jar:tests</text><text x="1933.1" y="1024.0" fill="#6495ed" stroke="#6495ed" textLength="28.8" lengthAdjust="spacingAndGlyphs">6.1.5</text>
<rect x="2555.2" y="978.3" width="142.5" height="47.9" fill="#ffffff" stroke="#6495ed"/><text x="2626.4" y="993.5" fill="#6495ed" stroke="#6495ed" textLength="118.2" lengthAdjust="spacingAndGlyphs">org.springframework</text><text x="2626.4" y="1005.5" fill="#6495ed" stroke="#6495ed" textLength="63.7" lengthAdjust="spacingAndGlyphs">spring-core</text><text x="2626.4" y="1017.5" fill="#6495ed" stroke="#6495ed" textLength="82.8" lengthAdjust="spacingAndGlyphs">3.0.7.RELEASE</text>
<rect x="117.4" y="1146.4" width="130.2" height="47.9" fill="#ffffff" stroke="#000000"/><text x="182.5" y="1161.6" fill="#000000" stroke="#000000" textLength="107.7" lengthAdjust="spacingAndGlyphs">com.squareup.okio</text><text x="182.5" y="1173.6" fill="#000000" stroke="#000000" textLength="23.5" lengthAdjust="spacingAndGlyphs">okio</text><text x="182.5" y="1185.6" fill="#000000" stroke="#000000" textLength="35.9" lengthAdjust="spacingAndGlyphs">1.13.0</text>
<rect x="253.8" y="1146.4" width="150.0" height="47.9" fill="#ffffff" stroke="#000000"/><text x="328.8" y="1161.6" fill="#000000" stroke="#000000" textLength="128.0" lengthAdjust="spacingAndGlyphs">com.squareup.okhttp3</text><text x="328.8" y="1173.6" fill="#000000" stroke="#000000" textLength="36.7" lengthAdjust="spacingAndGlyphs">okhttp</text><text x="328.8" y="1185.6" fill="#000000" stroke="#000000" textLength="35.9" lengthAdjust="spacingAndGlyphs">3.10.0</text>
<rect x="410.4" y="1146.4" width="130.6" height="47.9" fill="#ffffff" stroke="#000000"/><text x="475.7" y="1161.6" fill="#000000" stroke="#000000" textLength="107.7" lengthAdjust="spacingAndGlyphs">com.squareup.okio</text><text x="475.7" y="1173.6" fill="#000000" stroke="#000000" textLength="23.5" lengthAdjust="spacingAndGlyphs">okio</text><text x="475.7" y="1185.6" fill="#000000" stroke="#000000" textLength="35.9" lengthAdjust="spacingAndGlyphs">1.14.0</text>
<rect x="573.1" y="1146.4" width="168.0" height="47.9" fill="#ffffff" stroke="#000000"/><text x="657.1" y="1161.6" fill="#000000" stroke="#000000" textLength="142.2" lengthAdjust="spacingAndGlyphs">org.glassfish.jersey.inject</text><text x="657.1" y="1173.6" fill="#000000" stroke="#000000" textLength="59.0" lengthAdjust="spacingAndGlyphs">jersey-hk2</text><text x="657.1" y="1185.6" fill="#000000" stroke="#000000" textLength="25.2" lengthAdjust="spacingAndGlyphs">2.35</text>
<rect x="760.9" y="1146.4" width="230.1" height="47.9" fill="#ffffff" stroke="#000000"/><text x="876.0" y="1161.6" fill="#000000" stroke="#000000" textLength="41.5" lengthAdjust="spacingAndGlyphs">org.lsst</text><text x="876.0" y="1173.6" fill="#000000" stroke="#000000" textLength="203.8" lengthAdjust="spacingAndGlyphs">org-lsst-ccs-rest-file-server-common</text><text x="876.0" y="1185.6" fill="#000000" stroke="#000000" textLength="28.8" lengthAdjust="spacingAndGlyphs">1.1.2</text>
<rect x="997.5" y="1146.4" width="145.9" height="47.9" fill="#ffffff" stroke="#000000"/><text x="1070.5" y="1161.6" fill="#000000" stroke="#000000" textLength="122.2" lengthAdjust="spacingAndGlyphs">org.apache.commons</text><text x="1070.5" y="1173.6" fill="#000000" stroke="#000000" textLength="110.2" lengthAdjust="spacingAndGlyphs">commons-jcs3-core</text><text x="1070.5" y="1185.6" fill="#000000" stroke="#000000" textLength="18.0" lengthAdjust="spacingAndGlyphs">3.0</text>
<rect x="1216.0" y="1146.4" width="87.5" height="47.9" fill="#ffffff" stroke="#000000"/><text x="1259.8" y="1161.6" fill="#000000" stroke="#000000" textLength="64.0" lengthAdjust="spacingAndGlyphs">org.jgroups</text><text x="1259.8" y="1173.6" fill="#000000" stroke="#000000" textLength="41.8" lengthAdjust="spacingAndGlyphs">jgroups</text><text x="1259.8" y="1185.6" fill="#000000" stroke="#000000" textLength="43.1" lengthAdjust="spacingAndGlyphs">4.211.2</text>
<rect x="1526.5" y="1146.4" width="186.9" height="47.9" fill="#ffffff" stroke="#000000"/><text x="1620.0" y="1161.6" fill="#000000" stroke="#000000" textLength="41.5" lengthAdjust="spacingAndGlyphs">org.lsst</text><text x="1620.0" y="1173.6" fill="#000000" stroke="#000000" textLength="162.2" lengthAdjust="spacingAndGlyphs">org-lsst-ccs-messaging-layer</text><text x="1620.0" y="1185.6" fill="#000000" stroke="#000000" textLength="28.8" lengthAdjust="spacingAndGlyphs">6.1.5</text>
<rect x="1734.1" y="1146.4" width="75.2" height="47.9" fill="#ffffff" stroke="#000000"/><text x="1771.7" y="1161.6" fill="#000000" stroke="#000000" textLength="54.0" lengthAdjust="spacingAndGlyphs">javax.jms</text><text x="1771.7" y="1173.6" fill="#000000" stroke="#000000" textLength="20.0" lengthAdjust="spacingAndGlyphs">jms</text><text x="1771.7" y="1185.6" fill="#000000" stroke="#000000" textLength="18.0" lengthAdjust="spacingAndGlyphs">1.1</text>
<rect x="1966.0" y="1141.1" width="187.8" height="58.5" fill="#ffffff" stroke="#6495ed"/><text x="2059.9" y="1155.6" fill="#6495ed" stroke="#6495ed" textLength="41.5" lengthAdjust="spacingAndGlyphs">org.lsst</text><text x="2059.9" y="1167.6" fill="#6495ed" stroke="#6495ed" textLength="162.2" lengthAdjust="spacingAndGlyphs">org-lsst-ccs-messaging-layer</text><text x="2059.9" y="1179.6" fill="#6495ed" stroke="#6495ed" textLength="71.7" lengthAdjust="spacingAndGlyphs">test-jar:tests</text><text x="2059.9" y="1191.6" fill="#6495ed" stroke="#6495ed" textLength="28.8" lengthAdjust="spacingAndGlyphs">6.1.5</text>
<rect x="2428.7" y="1146.4" width="142.5" height="47.9" fill="#ffffff" stroke="#6495ed"/><text x="2499.9" y="1161.6" fill="#6495ed" stroke="#6495ed" textLength="118.2" lengthAdjust="spacingAndGlyphs">org.springframework</text><text x="2499.9" y="1173.6" fill="#6495ed" stroke="#6495ed" textLength="63.1" lengthAdjust="spacingAndGlyphs">spring-asm</text><text x="2499.9" y="1185.6" fill="#6495ed" stroke="#6495ed" textLength="82.8" lengthAdjust="spacingAndGlyphs">3.0.7.RELEASE</text>
<rect x="2577.3" y="1146.4" width="122.7" height="47.9" fill="#ffffff" stroke="#6495ed"/><text x="2638.7" y="1161.6" fill="#6495ed" stroke="#6495ed" textLength="101.1" lengthAdjust="spacingAndGlyphs">commons-logging</text><text x="2638.7" y="1173.6" fill="#6495ed" stroke="#6495ed" textLength="101.1" lengthAdjust="spacingAndGlyphs">commons-logging</text><text x="2638.7" y="1185.6" fill="#6495ed" stroke="#6495ed" textLength="28.8" lengthAdjust="spacingAndGlyphs">1.1.1</text>
<rect x="358.0" y="1314.4" width="120.5" height="47.9" fill="#ffffff" stroke="#000000"/><text x="418.2" y="1329.6" fill="#000000" stroke="#000000" textLength="95.8" lengthAdjust="spacingAndGlyphs">org.glassfish.hk2</text><text x="418.2" y="1341.6" fill="#000000" stroke="#000000" textLength="64.2" lengthAdjust="spacingAndGlyphs">hk2-locator</text><text x="418.2" y="1353.6" fill="#000000" stroke="#000000" textLength="28.8" lengthAdjust="spacingAndGlyphs">2.6.1</text>
<rect x="485.1" y="1314.4" width="162.8" height="47.9" fill="#ffffff" stroke="#000000"/><text x="566.5" y="1329.6" fill="#000000" stroke="#000000" textLength="135.6" lengthAdjust="spacingAndGlyphs">org.glassfish.jersey.core</text><text x="566.5" y="1341.6" fill="#000000" stroke="#000000" textLength="69.2" lengthAdjust="spacingAndGlyphs">jersey-client</text><text x="566.5" y="1353.6" fill="#000000" stroke="#000000" textLength="25.2" lengthAdjust="spacingAndGlyphs">2.35</text>
<rect x="666.8" y="1314.4" width="95.4" height="47.9" fill="#ffffff" stroke="#000000"/><text x="714.5" y="1329.6" fill="#000000" stroke="#000000" textLength="71.0" lengthAdjust="spacingAndGlyphs">org.javassist</text><text x="714.5" y="1341.6" fill="#000000" stroke="#000000" textLength="48.9" lengthAdjust="spacingAndGlyphs">javassist</text><text x="714.5" y="1353.6" fill="#000000" stroke="#000000" textLength="56.9" lengthAdjust="spacingAndGlyphs">3.25.0-GA</text>
<rect x="789.5" y="1314.4" width="172.8" height="47.9" fill="#ffffff" stroke="#000000"/><text x="875.9" y="1329.6" fill="#000000" stroke="#000000" textLength="146.3" lengthAdjust="spacingAndGlyphs">org.glassfish.jersey.media</text><text x="875.9" y="1341.6" fill="#000000" stroke="#000000" textLength="147.4" lengthAdjust="spacingAndGlyphs">jersey-media-json-jackson</text><text x="875.9" y="1353.6" fill="#000000" stroke="#000000" textLength="25.2" lengthAdjust="spacingAndGlyphs">2.35</text>
<rect x="1963.8" y="1314.4" width="184.3" height="47.9" fill="#ffffff" stroke="#000000"/><text x="2055.9" y="1329.6" fill="#000000" stroke="#000000" textLength="41.5" lengthAdjust="spacingAndGlyphs">org.lsst</text><text x="2055.9" y="1341.6" fill="#000000" stroke="#000000" textLength="158.7" lengthAdjust="spacingAndGlyphs">org-lsst-ccs-buses-definition</text><text x="2055.9" y="1353.6" fill="#000000" stroke="#000000" textLength="28.8" lengthAdjust="spacingAndGlyphs">6.1.5</text>
<rect x="2179.7" y="1309.1" width="184.3" height="58.5" fill="#ffffff" stroke="#6495ed"/><text x="2271.8" y="1323.6" fill="#6495ed" stroke="#6495ed" textLength="41.5" lengthAdjust="spacingAndGlyphs">org.lsst</text><text x="2271.8" y="1335.6" fill="#6495ed" stroke="#6495ed" textLength="158.7" lengthAdjust="spacingAndGlyphs">org-lsst-ccs-buses-definition</text><text x="2271.8" y="1347.6" fill="#6495ed" stroke="#6495ed" textLength="71.7" lengthAdjust="spacingAndGlyphs">test-jar:tests</text><text x="2271.8" y="1359.6" fill="#6495ed" stroke="#6495ed" textLength="28.8" lengthAdjust="spacingAndGlyphs">6.1.5</text>
<rect x="295.6" y="1477.1" width="120.5" height="48.0" fill="#ffffff" stroke="#000000"/><text x="355.9" y="1492.4" fill="#000000" stroke="#000000" textLength="95.8" lengthAdjust="spacingAndGlyphs">org.glassfish.hk2</text><text x="355.9" y="1504.4" fill="#000000" stroke="#000000" textLength="42.2" lengthAdjust="spacingAndGlyphs">hk2-api</text><text x="355.9" y="1516.4" fill="#000000" stroke="#000000" textLength="28.8" lengthAdjust="spacingAndGlyphs">2.6.1</text>
<rect x="575.7" y="1477.1" width="162.8" height="48.0" fill="#ffffff" stroke="#000000"/><text x="657.1" y="1492.4" fill="#000000" stroke="#000000" textLength="135.6" lengthAdjust="spacingAndGlyphs">org.glassfish.jersey.core</text><text x="657.1" y="1504.4" fill="#000000" stroke="#000000" textLength="87.4" lengthAdjust="spacingAndGlyphs">jersey-common</text><text x="657.1" y="1516.4" fill="#000000" stroke="#000000" textLength="25.2" lengthAdjust="spacingAndGlyphs">2.35</text>
<rect x="754.3" y="1477.1" width="154.8" height="48.0" fill="#ffffff" stroke="#000000"/><text x="831.7" y="1492.4" fill="#000000" stroke="#000000" textLength="129.0" lengthAdjust="spacingAndGlyphs">org.glassfish.jersey.ext</text><text x="831.7" y="1504.4" fill="#000000" stroke="#000000" textLength="118.6" lengthAdjust="spacingAndGlyphs">jersey-entity-filtering</text><text x="831.7" y="1516.4" fill="#000000" stroke="#000000" textLength="25.2" lengthAdjust="spacingAndGlyphs">2.35</text>
<rect x="915.3" y="1477.1" width="209.2" height="48.0" fill="#ffffff" stroke="#000000"/><text x="1019.9" y="1492.4" fill="#000000" stroke="#000000" textLength="173.4" lengthAdjust="spacingAndGlyphs">com.fasterxml.jackson.module</text><text x="1019.9" y="1504.4" fill="#000000" stroke="#000000" textLength="188.3" lengthAdjust="spacingAndGlyphs">jackson-module-jaxb-annotations</text><text x="1019.9" y="1516.4" fill="#000000" stroke="#000000" textLength="35.9" lengthAdjust="spacingAndGlyphs">2.12.2</text>
<rect x="1850.2" y="1477.1" width="176.8" height="48.0" fill="#ffffff" stroke="#000000"/><text x="1938.6" y="1492.4" fill="#000000" stroke="#000000" textLength="41.5" lengthAdjust="spacingAndGlyphs">org.lsst</text><text x="1938.6" y="1504.4" fill="#000000" stroke="#000000" textLength="153.9" lengthAdjust="spacingAndGlyphs">org-lsst-ccs-utilities-taitime</text><text x="1938.6" y="1516.4" fill="#000000" stroke="#000000" textLength="28.8" lengthAdjust="spacingAndGlyphs">1.0.7</text>
<rect x="130.6" y="1634.2" width="170.7" height="47.9" fill="#ffffff" stroke="#000000"/><text x="215.9" y="1649.5" fill="#000000" stroke="#000000" textLength="145.9" lengthAdjust="spacingAndGlyphs">org.glassfish.hk2.external</text><text x="215.9" y="1661.5" fill="#000000" stroke="#000000" textLength="134.9" lengthAdjust="spacingAndGlyphs">aopalliance-repackaged</text><text x="215.9" y="1673.5" fill="#000000" stroke="#000000" textLength="28.8" lengthAdjust="spacingAndGlyphs">2.6.1</text>
<rect x="321.1" y="1634.2" width="120.5" height="47.9" fill="#ffffff" stroke="#000000"/><text x="381.4" y="1649.5" fill="#000000" stroke="#000000" textLength="95.8" lengthAdjust="spacingAndGlyphs">org.glassfish.hk2</text><text x="381.4" y="1661.5" fill="#000000" stroke="#000000" textLength="48.7" lengthAdjust="spacingAndGlyphs">hk2-utils</text><text x="381.4" y="1673.5" fill="#000000" stroke="#000000" textLength="28.8" lengthAdjust="spacingAndGlyphs">2.6.1</text>
<rect x="488.7" y="1634.2" width="118.3" height="47.9" fill="#ffffff" stroke="#000000"/><text x="547.9" y="1649.5" fill="#000000" stroke="#000000" textLength="72.2" lengthAdjust="spacingAndGlyphs">jakarta.ws.rs</text><text x="547.9" y="1661.5" fill="#000000" stroke="#000000" textLength="93.5" lengthAdjust="spacingAndGlyphs">jakarta.ws.rs-api</text><text x="547.9" y="1673.5" fill="#000000" stroke="#000000" textLength="28.8" lengthAdjust="spacingAndGlyphs">2.1.6</text>
<rect x="613.1" y="1634.2" width="146.5" height="47.9" fill="#ffffff" stroke="#000000"/><text x="686.4" y="1649.5" fill="#000000" stroke="#000000" textLength="104.1" lengthAdjust="spacingAndGlyphs">jakarta.annotation</text><text x="686.4" y="1661.5" fill="#000000" stroke="#000000" textLength="125.4" lengthAdjust="spacingAndGlyphs">jakarta.annotation-api</text><text x="686.4" y="1673.5" fill="#000000" stroke="#000000" textLength="28.8" lengthAdjust="spacingAndGlyphs">1.3.5</text>
<rect x="765.3" y="1634.2" width="143.8" height="47.9" fill="#ffffff" stroke="#000000"/><text x="837.2" y="1649.5" fill="#000000" stroke="#000000" textLength="95.8" lengthAdjust="spacingAndGlyphs">org.glassfish.hk2</text><text x="837.2" y="1661.5" fill="#000000" stroke="#000000" textLength="119.3" lengthAdjust="spacingAndGlyphs">osgi-resource-locator</text><text x="837.2" y="1673.5" fill="#000000" stroke="#000000" textLength="28.8" lengthAdjust="spacingAndGlyphs">1.0.3</text>
<rect x="915.3" y="1634.2" width="134.5" height="47.9" fill="#ffffff" stroke="#000000"/><text x="982.5" y="1649.5" fill="#000000" stroke="#000000" textLength="92.0" lengthAdjust="spacingAndGlyphs">jakarta.xml.bind</text><text x="982.5" y="1661.5" fill="#000000" stroke="#000000" textLength="113.3" lengthAdjust="spacingAndGlyphs">jakarta.xml.bind-api</text><text x="982.5" y="1673.5" fill="#000000" stroke="#000000" textLength="28.8" lengthAdjust="spacingAndGlyphs">2.3.2</text>
<rect x="1096.8" y="1634.2" width="179.4" height="47.9" fill="#ffffff" stroke="#000000"/><text x="1186.5" y="1649.5" fill="#000000" stroke="#000000" textLength="155.5" lengthAdjust="spacingAndGlyphs">com.fasterxml.jackson.core</text><text x="1186.5" y="1661.5" fill="#000000" stroke="#000000" textLength="97.0" lengthAdjust="spacingAndGlyphs">jackson-databind</text><text x="1186.5" y="1673.5" fill="#000000" stroke="#000000" textLength="35.9" lengthAdjust="spacingAndGlyphs">2.12.2</text>
<rect x="1336.0" y="1634.2" width="149.1" height="47.9" fill="#ffffff" stroke="#000000"/><text x="1410.5" y="1649.5" fill="#000000" stroke="#000000" textLength="41.5" lengthAdjust="spacingAndGlyphs">org.lsst</text><text x="1410.5" y="1661.5" fill="#000000" stroke="#000000" textLength="123.5" lengthAdjust="spacingAndGlyphs">org-lsst-ccs-commons</text><text x="1410.5" y="1673.5" fill="#000000" stroke="#000000" textLength="28.8" lengthAdjust="spacingAndGlyphs">6.1.5</text>
<rect x="2125.2" y="1634.2" width="149.5" height="47.9" fill="#ffffff" stroke="#000000"/><text x="2199.9" y="1649.5" fill="#000000" stroke="#000000" textLength="41.5" lengthAdjust="spacingAndGlyphs">org.lsst</text><text x="2199.9" y="1661.5" fill="#000000" stroke="#000000" textLength="124.8" lengthAdjust="spacingAndGlyphs">org-lsst-ccs-command</text><text x="2199.9" y="1673.5" fill="#000000" stroke="#000000" textLength="35.9" lengthAdjust="spacingAndGlyphs">3.0.13</text>
<rect x="365.0" y="1781.0" width="170.7" height="47.9" fill="#ffffff" stroke="#000000"/><text x="450.4" y="1796.2" fill="#000000" stroke="#000000" textLength="145.9" lengthAdjust="spacingAndGlyphs">org.glassfish.hk2.external</text><text x="450.4" y="1808.2" fill="#000000" stroke="#000000" textLength="74.0" lengthAdjust="spacingAndGlyphs">jakarta.inject</text><text x="450.4" y="1820.2" fill="#000000" stroke="#000000" textLength="28.8" lengthAdjust="spacingAndGlyphs">2.6.1</text>
<rect x="779.4" y="1781.0" width="139.4" height="47.9" fill="#ffffff" stroke="#000000"/><text x="849.1" y="1796.2" fill="#000000" stroke="#000000" textLength="98.9" lengthAdjust="spacingAndGlyphs">jakarta.activation</text><text x="849.1" y="1808.2" fill="#000000" stroke="#000000" textLength="120.2" lengthAdjust="spacingAndGlyphs">jakarta.activation-api</text><text x="849.1" y="1820.2" fill="#000000" stroke="#000000" textLength="28.8" lengthAdjust="spacingAndGlyphs">1.2.1</text>
<rect x="924.5" y="1781.0" width="179.7" height="47.9" fill="#ffffff" stroke="#000000"/><text x="1014.4" y="1796.2" fill="#000000" stroke="#000000" textLength="155.5" lengthAdjust="spacingAndGlyphs">com.fasterxml.jackson.core</text><text x="1014.4" y="1808.2" fill="#000000" stroke="#000000" textLength="71.3" lengthAdjust="spacingAndGlyphs">jackson-core</text><text x="1014.4" y="1820.2" fill="#000000" stroke="#000000" textLength="35.9" lengthAdjust="spacingAndGlyphs">2.12.2</text>
<rect x="1110.0" y="1781.0" width="179.4" height="47.9" fill="#ffffff" stroke="#000000"/><text x="1199.7" y="1796.2" fill="#000000" stroke="#000000" textLength="155.5" lengthAdjust="spacingAndGlyphs">com.fasterxml.jackson.core</text><text x="1199.7" y="1808.2" fill="#000000" stroke="#000000" textLength="113.9" lengthAdjust="spacingAndGlyphs">jackson-annotations</text><text x="1199.7" y="1820.2" fill="#000000" stroke="#000000" textLength="35.9" lengthAdjust="spacingAndGlyphs">2.12.2</text>
<rect x="1999.8" y="1781.0" width="133.7" height="47.9" fill="#ffffff" stroke="#000000"/><text x="2066.7" y="1796.2" fill="#000000" stroke="#000000" textLength="41.5" lengthAdjust="spacingAndGlyphs">org.lsst</text><text x="2066.7" y="1808.2" fill="#000000" stroke="#000000" textLength="109.8" lengthAdjust="spacingAndGlyphs">org-lsst-ccs-utilities</text><text x="2066.7" y="1820.2" fill="#000000" stroke="#000000" textLength="35.9" lengthAdjust="spacingAndGlyphs">2.1.28</text>
<rect x="2139.7" y="1781.0" width="72.1" height="47.9" fill="#ffffff" stroke="#000000"/><text x="2175.8" y="1796.2" fill="#000000" stroke="#000000" textLength="23.5" lengthAdjust="spacingAndGlyphs">jline</text><text x="2175.8" y="1808.2" fill="#000000" stroke="#000000" textLength="23.5" lengthAdjust="spacingAndGlyphs">jline</text><text x="2175.8" y="1820.2" fill="#000000" stroke="#000000" textLength="25.2" lengthAdjust="spacingAndGlyphs">2.11</text>
<rect x="1420.9" y="1927.9" width="147.4" height="47.9" fill="#ffffff" stroke="#000000"/><text x="1494.6" y="1943.1" fill="#000000" stroke="#000000" textLength="41.5" lengthAdjust="spacingAndGlyphs">org.lsst</text><text x="1494.6" y="1955.1" fill="#000000" stroke="#000000" textLength="122.9" lengthAdjust="spacingAndGlyphs">org-lsst-ccs-bootstrap</text><text x="1494.6" y="1967.1" fill="#000000" stroke="#000000" textLength="28.8" lengthAdjust="spacingAndGlyphs">3.0.1</text>
<rect x="1860.7" y="1927.9" width="134.2" height="47.9" fill="#ffffff" stroke="#000000"/><text x="1927.8" y="1943.1" fill="#000000" stroke="#000000" textLength="111.1" lengthAdjust="spacingAndGlyphs">commons-beanutils</text><text x="1927.8" y="1955.1" fill="#000000" stroke="#000000" textLength="111.1" lengthAdjust="spacingAndGlyphs">commons-beanutils</text><text x="1927.8" y="1967.1" fill="#000000" stroke="#000000" textLength="28.8" lengthAdjust="spacingAndGlyphs">1.9.3</text>
<rect x="2030.6" y="1927.9" width="72.2" height="47.9" fill="#ffffff" stroke="#000000"/><text x="2066.7" y="1943.1" fill="#000000" stroke="#000000" textLength="27.6" lengthAdjust="spacingAndGlyphs">log4j</text><text x="2066.7" y="1955.1" fill="#000000" stroke="#000000" textLength="27.6" lengthAdjust="spacingAndGlyphs">log4j</text><text x="2066.7" y="1967.1" fill="#000000" stroke="#000000" textLength="35.9" lengthAdjust="spacingAndGlyphs">1.2.17</text>
<rect x="2230.8" y="1927.9" width="79.6" height="47.9" fill="#ffffff" stroke="#000000"/><text x="2270.6" y="1943.1" fill="#000000" stroke="#000000" textLength="45.5" lengthAdjust="spacingAndGlyphs">org.slf4j</text><text x="2270.6" y="1955.1" fill="#000000" stroke="#000000" textLength="58.6" lengthAdjust="spacingAndGlyphs">slf4j-jdk14</text><text x="2270.6" y="1967.1" fill="#000000" stroke="#000000" textLength="28.8" lengthAdjust="spacingAndGlyphs">1.7.5</text>
<rect x="15.4" y="2074.4" width="88.8" height="47.9" fill="#ffffff" stroke="#000000"/><text x="59.8" y="2089.7" fill="#000000" stroke="#000000" textLength="65.7" lengthAdjust="spacingAndGlyphs">org.freehep</text><text x="59.8" y="2101.7" fill="#000000" stroke="#000000" textLength="65.5" lengthAdjust="spacingAndGlyphs">freehep-util</text><text x="59.8" y="2113.7" fill="#000000" stroke="#000000" textLength="28.8" lengthAdjust="spacingAndGlyphs">2.1.3</text>
<rect x="1797.4" y="2074.4" width="122.3" height="47.9" fill="#ffffff" stroke="#000000"/><text x="1858.6" y="2089.7" fill="#000000" stroke="#000000" textLength="101.1" lengthAdjust="spacingAndGlyphs">commons-logging</text><text x="1858.6" y="2101.7" fill="#000000" stroke="#000000" textLength="101.1" lengthAdjust="spacingAndGlyphs">commons-logging</text><text x="1858.6" y="2113.7" fill="#000000" stroke="#000000" textLength="18.0" lengthAdjust="spacingAndGlyphs">1.2</text>
<rect x="1926.3" y="2074.4" width="141.9" height="47.9" fill="#ffffff" stroke="#000000"/><text x="1997.2" y="2089.7" fill="#000000" stroke="#000000" textLength="119.3" lengthAdjust="spacingAndGlyphs">commons-collections</text><text x="1997.2" y="2101.7" fill="#000000" stroke="#000000" textLength="119.3" lengthAdjust="spacingAndGlyphs">commons-collections</text><text x="1997.2" y="2113.7" fill="#000000" stroke="#000000" textLength="28.8" lengthAdjust="spacingAndGlyphs">3.2.2</text>
<rect x="2174.5" y="2074.4" width="93.6" height="47.9" fill="#ffffff" stroke="#000000"/><text x="2221.3" y="2089.7" fill="#000000" stroke="#000000" textLength="71.7" lengthAdjust="spacingAndGlyphs">commons-cli</text><text x="2221.3" y="2101.7" fill="#000000" stroke="#000000" textLength="71.7" lengthAdjust="spacingAndGlyphs">commons-cli</text><text x="2221.3" y="2113.7" fill="#000000" stroke="#000000" textLength="18.0" lengthAdjust="spacingAndGlyphs">1.2</text>
<rect x="2502.6" y="2074.4" width="72.1" height="47.9" fill="#ffffff" stroke="#000000"/><text x="2538.6" y="2089.7" fill="#000000" stroke="#000000" textLength="45.5" lengthAdjust="spacingAndGlyphs">org.slf4j</text><text x="2538.6" y="2101.7" fill="#000000" stroke="#000000" textLength="44.6" lengthAdjust="spacingAndGlyphs">slf4j-api</text><text x="2538.6" y="2113.7" fill="#000000" stroke="#000000" textLength="28.8" lengthAdjust="spacingAndGlyphs">1.6.6</text>
<rect x="4.8" y="2221.3" width="110.4" height="47.9" fill="#ffffff" stroke="#000000"/><text x="60.0" y="2236.6" fill="#000000" stroke="#000000" textLength="74.8" lengthAdjust="spacingAndGlyphs">org.netbeans</text><text x="60.0" y="2248.6" fill="#000000" stroke="#000000" textLength="87.0" lengthAdjust="spacingAndGlyphs">openide-lookup</text><text x="60.0" y="2260.6" fill="#000000" stroke="#000000" textLength="90.1" lengthAdjust="spacingAndGlyphs">1.9-patched-1.0</text>
</svg></body></html>
